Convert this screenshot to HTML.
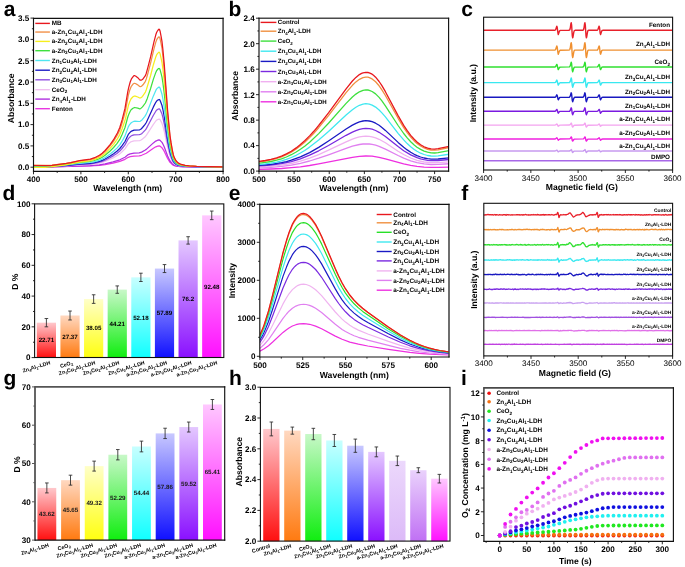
<!DOCTYPE html><html><head><meta charset="utf-8"><style>html,body{margin:0;padding:0;background:#fff;}svg{display:block;filter:blur(0.3px);} text{text-rendering:geometricPrecision;}</style></head><body>
<svg width="685" height="567" viewBox="0 0 685 567" font-family='"Liberation Sans", sans-serif'>
<rect width="685" height="567" fill="#fff"/>
<defs>
<linearGradient id="g_red" x1="0" y1="0" x2="0" y2="1"><stop offset="0" stop-color="#ffc8cc"/><stop offset="1" stop-color="#ff1010"/></linearGradient>
<linearGradient id="g_orange" x1="0" y1="0" x2="0" y2="1"><stop offset="0" stop-color="#ffd8c0"/><stop offset="1" stop-color="#ff7a10"/></linearGradient>
<linearGradient id="g_yellow" x1="0" y1="0" x2="0" y2="1"><stop offset="0" stop-color="#ffffc8"/><stop offset="1" stop-color="#ffff10"/></linearGradient>
<linearGradient id="g_green" x1="0" y1="0" x2="0" y2="1"><stop offset="0" stop-color="#c8f8c8"/><stop offset="1" stop-color="#10ee10"/></linearGradient>
<linearGradient id="g_cyan" x1="0" y1="0" x2="0" y2="1"><stop offset="0" stop-color="#c8ffff"/><stop offset="1" stop-color="#10ffff"/></linearGradient>
<linearGradient id="g_blue" x1="0" y1="0" x2="0" y2="1"><stop offset="0" stop-color="#c8c8ff"/><stop offset="1" stop-color="#1010ff"/></linearGradient>
<linearGradient id="g_purple" x1="0" y1="0" x2="0" y2="1"><stop offset="0" stop-color="#e4c8ff"/><stop offset="1" stop-color="#8a10ff"/></linearGradient>
<linearGradient id="g_magenta" x1="0" y1="0" x2="0" y2="1"><stop offset="0" stop-color="#ffc8ff"/><stop offset="1" stop-color="#ff10ff"/></linearGradient>
<linearGradient id="g_lav1" x1="0" y1="0" x2="0" y2="1"><stop offset="0" stop-color="#ecd8fc"/><stop offset="1" stop-color="#dcbaf8"/></linearGradient>
<linearGradient id="g_lav2" x1="0" y1="0" x2="0" y2="1"><stop offset="0" stop-color="#ead2fc"/><stop offset="1" stop-color="#c070f4"/></linearGradient>
</defs>
<defs>
</defs>
<clipPath id="ca"><rect x="33.5" y="18.4" width="189.6" height="152.9"/></clipPath>
<g clip-path="url(#ca)">
<polyline points="33.5,166.9 52,166.9 90.4,166 99.4,165.4 105.1,164.6 113.1,163.1 119.8,161.4 125,159.3 128.3,157.3 130.2,156.7 134,156.1 139.2,155.9 141.6,155.3 146.3,153.2 153.4,148.2 155.8,146.8 157.7,146.1 159.1,145.9 160.1,146.2 161,146.9 162,147.8 162.9,149.1 164.3,151.4 167.6,158.5 170,162.3 172.4,164.6 174.3,165.7 178.1,166.5 185.2,166.9 223.1,167.1" fill="none" stroke="#e838e0" stroke-width="1.25" stroke-linejoin="round" stroke-linecap="round"/>
<polyline points="33.5,167.1 51.5,167 90.4,165.6 99.4,164.9 105.1,163.9 113.1,161.9 119.8,159.8 125,157.2 128.3,154.6 130.2,153.8 134,153.2 139.2,152.8 141.6,152.1 144.9,150.3 146.3,149.4 153.4,142.9 155.8,141.1 157.7,140.2 159.1,139.9 160.1,140.3 161,141.3 162,142.4 162.9,144 164.3,147 167.6,156 170,161 172.4,163.9 174.3,165.3 176.2,166 178.1,166.4 185.2,166.8 223.1,167.1" fill="none" stroke="#b030e0" stroke-width="1.25" stroke-linejoin="round" stroke-linecap="round"/>
<polyline points="33.5,166.6 45.8,166.7 52,166.5 66.2,165.9 79.5,164.9 90.4,164.4 94.6,163.9 99.4,163.1 102.2,162.4 105.1,161.4 113.6,157.6 116.9,155.8 119.8,153.9 122.1,151.8 125,148.9 128.3,143.8 130.7,141.9 134,140.8 139.7,140.6 141.1,140 142.5,139 144.9,137 146.3,135.4 153.4,124.3 155.8,121 156.7,120.1 157.7,119.5 159.1,119.1 159.6,119.3 160.1,119.8 161,121.4 162,123.4 162.9,126.2 164.3,131.5 167.6,147.4 170,156.2 172.4,161.4 173.3,162.8 174.3,163.9 176.2,165 178.1,165.7 180.4,166.1 185.2,166.6 196.6,166.9 223.1,167.1" fill="none" stroke="#f0c0f0" stroke-width="1.25" stroke-linejoin="round" stroke-linecap="round"/>
<polyline points="33.5,166.7 45.8,166.8 51.5,166.6 65.7,165.7 79.5,164.5 90.4,163.8 94.6,163.2 99.4,162.2 102.2,161.3 105.1,160.2 109.8,157.8 113.6,155.6 116.9,153.4 119.8,151.1 122.1,148.5 125,144.9 128.3,138.6 130.7,136.2 131.6,135.7 134,134.9 139.2,134.7 140.2,134.5 141.6,133.7 143,132.4 145.4,129.9 146.3,128.6 153.4,115.2 155.8,111.2 156.7,110.1 157.7,109.4 159.1,108.8 159.6,109.1 160.1,109.7 161,111.7 162,114.1 162.9,117.5 164.3,124 167.6,143.2 170,153.9 172.4,160.1 173.3,161.9 174.3,163.1 176.2,164.6 178.1,165.4 180.4,165.9 185.2,166.4 196.6,166.8 223.1,167" fill="none" stroke="#9050e0" stroke-width="1.25" stroke-linejoin="round" stroke-linecap="round"/>
<polyline points="33.5,166.8 45.8,166.9 51.5,166.6 65.3,165.6 79.5,164.1 90.4,163.3 94.6,162.6 99.4,161.4 102.2,160.4 105.1,159 109.8,156.3 113.6,153.8 116.9,151.2 119.8,148.5 122.1,145.6 125,141.5 128.3,134.4 130.7,131.7 131.6,131.1 134,130.2 139.7,129.8 141.1,129 142.5,127.5 144.9,124.7 146.3,122.5 153.4,106.9 155.8,102.3 156.7,101 157.7,100.1 159.1,99.5 159.6,99.7 160.1,100.5 161,102.8 162,105.5 162.9,109.5 164.3,117 167.6,139.4 170,151.7 172.4,159 173.3,161.1 174.3,162.5 176.2,164.2 178.1,165.1 180.4,165.7 185.2,166.3 196.6,166.7 223.1,167" fill="none" stroke="#1a1ac4" stroke-width="1.25" stroke-linejoin="round" stroke-linecap="round"/>
<polyline points="33.5,166.2 45.8,166.3 52,166.1 66.2,165 79.5,163.4 90.4,162.5 94.6,161.7 99.4,160.3 102.2,159.1 105.1,157.5 109.8,154.3 113.6,151.3 116.9,148.1 119.8,144.9 122.1,141.2 125,135.9 128.3,126.9 129.2,125.2 130.7,123.3 131.6,122.5 134,121.3 134.9,121.2 139.2,121.5 140.2,121.3 142,119.9 144.9,116.4 145.8,114.9 147.3,111.8 153.4,95.9 155.8,90.4 156.7,88.9 157.7,87.9 158.6,87.2 159.1,87.1 159.6,87.4 160.1,88.3 161,91 162,94.3 162.9,99 164.3,107.9 167.6,134.3 170,148.9 171,152.8 172.4,157.5 173.3,159.9 174.3,161.6 176.2,163.6 178.1,164.7 180.4,165.4 185.2,166.1 196.6,166.7 223.1,167" fill="none" stroke="#50e6f0" stroke-width="1.25" stroke-linejoin="round" stroke-linecap="round"/>
<polyline points="33.5,165.8 45.8,165.9 52,165.6 66.2,164.4 79.5,162.5 89.9,161.5 94.2,160.5 98.9,158.9 101.8,157.5 105.1,155.3 109.8,151.2 113.6,147.5 116.9,143.6 119.8,139.4 122.1,134.5 125,127.5 127.8,117 128.8,114.2 130.2,111.3 131.1,109.8 133,108.2 134.5,107.5 137.8,108.2 139.7,108.8 140.6,108.6 142.5,106.9 145.4,103 147.3,98.4 150.6,88.5 153.4,79.1 155.8,72.4 156.7,70.5 157.7,69.3 158.6,68.5 159.1,68.4 159.6,68.8 160.1,69.8 161,73.2 162,77.2 162.9,83 164.3,94 167.6,126.6 170,144.6 171,149.4 172.4,155.2 173.3,158.2 174.3,160.3 176.2,162.8 178.1,164.1 180.4,165 185.2,165.9 196.6,166.5 223.1,166.9" fill="none" stroke="#3ee03e" stroke-width="1.25" stroke-linejoin="round" stroke-linecap="round"/>
<polyline points="33.5,167.3 45.4,167.3 51,166.9 64.3,165.1 70.5,164 79.5,162.1 90.4,160.6 94.6,159.4 99.4,157.4 102.2,155.7 105.1,153.4 109.8,148.6 113.6,144.3 116.9,139.7 119.8,134.6 122.1,128.8 124.5,121.8 125.5,118.6 128.3,105.8 129.7,101.8 131.1,98.8 133,96.8 134,96.2 134.5,96 135.4,96.2 137.8,97 139.7,98 140.6,97.9 141.6,97.3 142.5,96.3 145.4,92.1 146.3,89.8 147.7,85.3 150.6,75.5 153.4,64.7 155.8,56.9 156.7,54.7 157.7,53.3 158.6,52.3 159.1,52.2 159.6,52.6 160.1,53.9 161,57.8 162,62.5 162.9,69.2 164.3,82 167.6,120 170,140.9 171,146.5 172.4,153.3 173.3,156.8 174.3,159.2 176.2,162 178.1,163.7 180.4,164.6 185.2,165.7 189.4,166.1 196.6,166.4 223.1,166.8" fill="none" stroke="#f6ee1e" stroke-width="1.25" stroke-linejoin="round" stroke-linecap="round"/>
<polyline points="33.5,165.2 45.8,165.4 52,165 66.7,163.4 79.5,160.9 89.9,159.6 94.2,158.4 98.9,156.2 101.8,154.4 105.1,151.4 110.3,145.5 114.1,140.5 117.4,135 119.8,130 122.1,123.1 124.5,114.5 125.5,110.6 128.3,95.3 129.7,90.3 131.1,86.7 133,84.1 134,83.4 134.5,83.3 135.4,83.5 137.3,84.6 139.7,86.5 140.2,86.7 141.1,86.5 142,85.8 143,84.8 145.4,81.3 146.3,78.9 147.7,74 150.6,63.1 153.9,49.1 155.8,42.1 156.7,39.7 157.7,38.1 158.6,37 159.1,36.8 159.6,37.4 160.1,38.8 161,43.2 162,48.5 162.9,56.2 164.3,70.6 167.6,113.7 170,137.4 171,143.7 172.4,151.4 173.3,155.4 174.3,158.2 176.2,161.3 178.1,163.2 180.4,164.3 185.2,165.5 189.4,165.9 196.6,166.3 223.1,166.8" fill="none" stroke="#f29048" stroke-width="1.25" stroke-linejoin="round" stroke-linecap="round"/>
<polyline points="33.5,165.5 45.8,165.7 52,165.3 66.2,163.4 70.9,162.6 79.5,160.7 90.4,159.1 94.6,157.7 99.4,155.3 102.2,153.3 105.1,150.5 110.3,144.3 114.1,138.9 117.4,133 119.8,127.5 122.1,119.9 125,108.4 127.8,91.7 128.8,87.1 130.2,82 131.6,78.6 133.5,76.1 134,75.7 134.9,75.7 135.9,76.2 137.8,77.7 139.7,79.8 140.2,80.2 141.1,80.2 142,79.7 143,78.9 145.4,75.6 146.3,73.2 147.7,68.2 150.6,56.9 153.9,42.1 155.8,34.8 156.7,32.2 157.7,30.5 158.6,29.3 159.1,29.2 159.6,29.7 160.1,31.2 161,35.9 162,41.6 162.9,49.6 164.3,64.9 167.6,110.5 170,135.6 171,142.4 172.4,150.5 173.3,154.7 174.3,157.6 176.2,161 178.1,162.9 180.4,164.1 185.2,165.4 189.4,165.9 196.6,166.3 223.1,166.8" fill="none" stroke="#e8181e" stroke-width="1.25" stroke-linejoin="round" stroke-linecap="round"/>
</g>
<line x1="35.3" y1="23.4" x2="49.9" y2="23.4" stroke="#e8181e" stroke-width="1.4"/>
<text x="51.8" y="25.4" font-size="6.3" text-anchor="start" font-weight="bold" fill="#000">MB</text>
<line x1="35.3" y1="32.05" x2="49.9" y2="32.05" stroke="#f29048" stroke-width="1.4"/>
<text x="51.8" y="34.05" font-size="6.3" text-anchor="start" font-weight="bold" fill="#000">a-Zn<tspan dy="1.51" font-size="4.54">1</tspan><tspan dy="-1.51">Cu</tspan><tspan dy="1.51" font-size="4.54">3</tspan><tspan dy="-1.51">Al</tspan><tspan dy="1.51" font-size="4.54">1</tspan><tspan dy="-1.51">-LDH</tspan></text>
<line x1="35.3" y1="41.4" x2="49.9" y2="41.4" stroke="#f6ee1e" stroke-width="1.4"/>
<text x="51.8" y="43.4" font-size="6.3" text-anchor="start" font-weight="bold" fill="#000">a-Zn<tspan dy="1.51" font-size="4.54">2</tspan><tspan dy="-1.51">Cu</tspan><tspan dy="1.51" font-size="4.54">2</tspan><tspan dy="-1.51">Al</tspan><tspan dy="1.51" font-size="4.54">1</tspan><tspan dy="-1.51">-LDH</tspan></text>
<line x1="35.3" y1="50.7" x2="49.9" y2="50.7" stroke="#3ee03e" stroke-width="1.4"/>
<text x="51.8" y="52.7" font-size="6.3" text-anchor="start" font-weight="bold" fill="#000">a-Zn<tspan dy="1.51" font-size="4.54">3</tspan><tspan dy="-1.51">Cu</tspan><tspan dy="1.51" font-size="4.54">1</tspan><tspan dy="-1.51">Al</tspan><tspan dy="1.51" font-size="4.54">1</tspan><tspan dy="-1.51">-LDH</tspan></text>
<line x1="35.3" y1="60.5" x2="49.9" y2="60.5" stroke="#50e6f0" stroke-width="1.4"/>
<text x="51.8" y="62.5" font-size="6.3" text-anchor="start" font-weight="bold" fill="#000">Zn<tspan dy="1.51" font-size="4.54">1</tspan><tspan dy="-1.51">Cu</tspan><tspan dy="1.51" font-size="4.54">3</tspan><tspan dy="-1.51">Al</tspan><tspan dy="1.51" font-size="4.54">1</tspan><tspan dy="-1.51">-LDH</tspan></text>
<line x1="35.3" y1="70.2" x2="49.9" y2="70.2" stroke="#1a1ac4" stroke-width="1.4"/>
<text x="51.8" y="72.2" font-size="6.3" text-anchor="start" font-weight="bold" fill="#000">Zn<tspan dy="1.51" font-size="4.54">2</tspan><tspan dy="-1.51">Cu</tspan><tspan dy="1.51" font-size="4.54">2</tspan><tspan dy="-1.51">Al</tspan><tspan dy="1.51" font-size="4.54">1</tspan><tspan dy="-1.51">-LDH</tspan></text>
<line x1="35.3" y1="79.8" x2="49.9" y2="79.8" stroke="#9050e0" stroke-width="1.4"/>
<text x="51.8" y="81.8" font-size="6.3" text-anchor="start" font-weight="bold" fill="#000">Zn<tspan dy="1.51" font-size="4.54">3</tspan><tspan dy="-1.51">Cu</tspan><tspan dy="1.51" font-size="4.54">1</tspan><tspan dy="-1.51">Al</tspan><tspan dy="1.51" font-size="4.54">1</tspan><tspan dy="-1.51">-LDH</tspan></text>
<line x1="35.3" y1="89.7" x2="49.9" y2="89.7" stroke="#f0c0f0" stroke-width="1.4"/>
<text x="51.8" y="91.7" font-size="6.3" text-anchor="start" font-weight="bold" fill="#000">CeO<tspan dy="1.51" font-size="4.54">2</tspan></text>
<line x1="35.3" y1="99.1" x2="49.9" y2="99.1" stroke="#b030e0" stroke-width="1.4"/>
<text x="51.8" y="101.1" font-size="6.3" text-anchor="start" font-weight="bold" fill="#000">Zn<tspan dy="1.51" font-size="4.54">4</tspan><tspan dy="-1.51">Al</tspan><tspan dy="1.51" font-size="4.54">1</tspan><tspan dy="-1.51">-LDH</tspan></text>
<line x1="35.3" y1="108.7" x2="49.9" y2="108.7" stroke="#e838e0" stroke-width="1.4"/>
<text x="51.8" y="110.7" font-size="6.3" text-anchor="start" font-weight="bold" fill="#000">Fenton</text>
<line x1="223.1" y1="17.85" x2="223.1" y2="171.85" stroke="#4a4a4a" stroke-width="1.6"/>
<line x1="32.95" y1="18.4" x2="223.65" y2="18.4" stroke="#111" stroke-width="1.15"/>
<line x1="32.95" y1="171.3" x2="223.65" y2="171.3" stroke="#111" stroke-width="1.15"/>
<line x1="33.5" y1="17.85" x2="33.5" y2="171.85" stroke="#111" stroke-width="1.15"/>
<line x1="33.5" y1="171.3" x2="33.5" y2="174.3" stroke="#111" stroke-width="0.9"/>
<text x="33.5" y="182.1" font-size="8.1" text-anchor="middle" font-weight="bold" fill="#000">400</text>
<line x1="80.9" y1="171.3" x2="80.9" y2="174.3" stroke="#111" stroke-width="0.9"/>
<text x="80.9" y="182.1" font-size="8.1" text-anchor="middle" font-weight="bold" fill="#000">500</text>
<line x1="128.3" y1="171.3" x2="128.3" y2="174.3" stroke="#111" stroke-width="0.9"/>
<text x="128.3" y="182.1" font-size="8.1" text-anchor="middle" font-weight="bold" fill="#000">600</text>
<line x1="175.7" y1="171.3" x2="175.7" y2="174.3" stroke="#111" stroke-width="0.9"/>
<text x="175.7" y="182.1" font-size="8.1" text-anchor="middle" font-weight="bold" fill="#000">700</text>
<line x1="223.1" y1="171.3" x2="223.1" y2="174.3" stroke="#111" stroke-width="0.9"/>
<text x="223.1" y="182.1" font-size="8.1" text-anchor="middle" font-weight="bold" fill="#000">800</text>
<line x1="57.2" y1="171.3" x2="57.2" y2="172.9" stroke="#111" stroke-width="0.9"/>
<line x1="104.6" y1="171.3" x2="104.6" y2="172.9" stroke="#111" stroke-width="0.9"/>
<line x1="152" y1="171.3" x2="152" y2="172.9" stroke="#111" stroke-width="0.9"/>
<line x1="199.4" y1="171.3" x2="199.4" y2="172.9" stroke="#111" stroke-width="0.9"/>
<line x1="30.5" y1="167.2" x2="33.5" y2="167.2" stroke="#111" stroke-width="0.9"/>
<text x="29.3" y="170.08" font-size="8.1" text-anchor="end" font-weight="bold" fill="#000">0.0</text>
<line x1="30.5" y1="145.9" x2="33.5" y2="145.9" stroke="#111" stroke-width="0.9"/>
<text x="29.3" y="148.78" font-size="8.1" text-anchor="end" font-weight="bold" fill="#000">0.5</text>
<line x1="30.5" y1="124.6" x2="33.5" y2="124.6" stroke="#111" stroke-width="0.9"/>
<text x="29.3" y="127.48" font-size="8.1" text-anchor="end" font-weight="bold" fill="#000">1.0</text>
<line x1="30.5" y1="103.3" x2="33.5" y2="103.3" stroke="#111" stroke-width="0.9"/>
<text x="29.3" y="106.18" font-size="8.1" text-anchor="end" font-weight="bold" fill="#000">1.5</text>
<line x1="30.5" y1="82" x2="33.5" y2="82" stroke="#111" stroke-width="0.9"/>
<text x="29.3" y="84.88" font-size="8.1" text-anchor="end" font-weight="bold" fill="#000">2.0</text>
<line x1="30.5" y1="60.7" x2="33.5" y2="60.7" stroke="#111" stroke-width="0.9"/>
<text x="29.3" y="63.58" font-size="8.1" text-anchor="end" font-weight="bold" fill="#000">2.5</text>
<line x1="30.5" y1="39.4" x2="33.5" y2="39.4" stroke="#111" stroke-width="0.9"/>
<text x="29.3" y="42.28" font-size="8.1" text-anchor="end" font-weight="bold" fill="#000">3.0</text>
<line x1="30.5" y1="18.1" x2="33.5" y2="18.1" stroke="#111" stroke-width="0.9"/>
<text x="29.3" y="20.98" font-size="8.1" text-anchor="end" font-weight="bold" fill="#000">3.5</text>
<line x1="31.9" y1="156.55" x2="33.5" y2="156.55" stroke="#111" stroke-width="0.9"/>
<line x1="31.9" y1="135.25" x2="33.5" y2="135.25" stroke="#111" stroke-width="0.9"/>
<line x1="31.9" y1="113.95" x2="33.5" y2="113.95" stroke="#111" stroke-width="0.9"/>
<line x1="31.9" y1="92.65" x2="33.5" y2="92.65" stroke="#111" stroke-width="0.9"/>
<line x1="31.9" y1="71.35" x2="33.5" y2="71.35" stroke="#111" stroke-width="0.9"/>
<line x1="31.9" y1="50.05" x2="33.5" y2="50.05" stroke="#111" stroke-width="0.9"/>
<line x1="31.9" y1="28.75" x2="33.5" y2="28.75" stroke="#111" stroke-width="0.9"/>
<text x="3.7" y="16" font-size="21" text-anchor="start" font-weight="bold" fill="#000">a</text>
<text x="14" y="98.4" font-size="8.6" text-anchor="middle" font-weight="bold" fill="#000" transform="rotate(-90 14 98.4)">Absorbance</text>
<text x="127.7" y="190.6" font-size="8.6" text-anchor="middle" font-weight="bold" fill="#000">Wavelength (nm)</text>
<clipPath id="cb"><rect x="259" y="18.2" width="189.6" height="152.9"/></clipPath>
<g clip-path="url(#cb)">
<polyline points="259,169.3 270.9,169 281.5,168.5 291.3,167.7 300.4,166.8 309.6,165.5 318.7,163.9 352.4,157.3 359.4,156.3 365.8,156 372.1,156.2 379.1,157.3 385.4,158.8 403.7,163.9 410.7,165.4 417,166.4 424.1,167.1 431.1,167.4 438.1,167.4 450.1,167" fill="none" stroke="#ee30e0" stroke-width="1.3" stroke-linejoin="round" stroke-linecap="round"/>
<polyline points="259,167.8 270.9,167.3 281.5,166.4 291.3,165.1 300.4,163.3 309.6,161 318.7,158.2 328.5,154.8 346.1,148.3 352.4,146.2 359.4,144.5 363,144 365.8,143.9 369.3,144 372.1,144.4 375.6,145.2 379.1,146.3 385.4,149.1 398.1,155.5 403.7,158.1 410.7,160.8 417,162.6 424.1,163.9 431.1,164.5 438.1,164.4 450.1,163.7" fill="none" stroke="#e080f0" stroke-width="1.3" stroke-linejoin="round" stroke-linecap="round"/>
<polyline points="259,167 270.9,166.3 281.5,165.2 291.3,163.5 300.4,161.2 309.6,158.2 318.7,154.6 328.5,150.2 346.1,141.8 352.4,139.1 355.9,137.9 359.4,136.9 363,136.3 365.8,136.1 369.3,136.3 372.1,136.8 375.6,137.8 379.1,139.3 385.4,142.8 398.1,151.2 403.7,154.5 410.7,158 417,160.3 424.1,162 431.1,162.7 438.1,162.6 450.1,161.7" fill="none" stroke="#f0b0f0" stroke-width="1.3" stroke-linejoin="round" stroke-linecap="round"/>
<polyline points="259,165.8 270.9,165 281.5,163.6 291.3,161.6 300.4,158.8 309.6,155.2 318.7,150.8 328.5,145.5 346.1,135.3 352.4,132.1 355.9,130.6 359.4,129.4 363,128.6 365.8,128.4 369.3,128.6 372.1,129.2 375.6,130.5 379.1,132.3 385.4,136.5 398.1,146.6 403.7,150.7 410.7,154.9 417,157.7 420.6,158.9 424.1,159.7 427.6,160.3 431.1,160.6 438.1,160.5 450.1,159.4" fill="none" stroke="#7a2ae0" stroke-width="1.3" stroke-linejoin="round" stroke-linecap="round"/>
<polyline points="259,165.3 270.9,164.3 281.5,162.7 286.4,161.6 291.3,160.2 300.4,156.9 309.6,152.6 318.7,147.4 328.5,141 346.1,129 352.4,125.1 355.9,123.3 359.4,121.9 363,121 365.8,120.7 369.3,121 372.1,121.7 375.6,123.2 379.1,125.3 381.9,127.4 385.4,130.4 398.1,142.4 403.7,147.3 407.2,149.9 410.7,152.3 414.2,154.3 417,155.6 420.6,157 424.1,158 427.6,158.7 431.1,159.1 438.1,159 450.1,157.7" fill="none" stroke="#1a1ac4" stroke-width="1.3" stroke-linejoin="round" stroke-linecap="round"/>
<polyline points="259,164.4 265.3,163.9 270.9,163.1 276.6,162.1 281.5,160.9 286.4,159.4 291.3,157.5 296.2,155.3 300.4,153 304.7,150.5 309.6,147.1 318.7,140 328.5,131.4 346.1,115 352.4,109.7 355.9,107.2 359.4,105.3 363,104.1 365.8,103.7 369.3,104.1 372.1,105.1 375.6,107.1 379.1,110 381.9,112.9 385.4,116.9 398.1,133.3 403.7,139.9 407.2,143.6 410.7,146.7 414.2,149.5 417,151.3 420.6,153.2 424.1,154.5 427.6,155.5 431.1,156 434.6,156.1 438.1,155.9 450.1,154.1" fill="none" stroke="#40e8f0" stroke-width="1.3" stroke-linejoin="round" stroke-linecap="round"/>
<polyline points="259,163.1 265.3,162.4 270.9,161.5 276.6,160.2 281.5,158.8 286.4,157 291.3,154.7 296.2,152 300.4,149.3 304.7,146.2 309.6,142.2 318.7,133.6 328.5,123.2 346.1,103.4 352.4,97 355.9,94.1 359.4,91.8 363,90.3 365.8,89.9 367.9,90 369.3,90.3 372.1,91.5 375.6,93.9 379.1,97.4 381.9,100.9 385.4,105.8 398.1,125.5 403.7,133.5 407.2,137.9 410.7,141.7 414.2,145 417,147.2 420.6,149.4 424.1,151.1 427.6,152.2 431.1,152.8 434.6,153 438.1,152.7 450.1,150.5" fill="none" stroke="#3ee03e" stroke-width="1.3" stroke-linejoin="round" stroke-linecap="round"/>
<polyline points="259,161.8 265.3,161 270.9,159.9 276.6,158.5 281.5,156.8 286.4,154.7 291.3,152.1 296.2,149 300.4,145.8 304.7,142.3 309.6,137.6 313.8,133.2 318.7,127.7 328.5,115.6 346.1,92.7 352.4,85.3 355.9,81.9 359.4,79.3 363,77.6 365.8,77.1 367.9,77.2 369.3,77.6 372.1,78.9 375.6,81.8 379.1,85.8 381.9,89.8 385.4,95.5 398.1,118.3 403.7,127.6 407.2,132.6 410.7,137.1 414.2,140.9 417,143.4 420.6,146 424.1,148 427.6,149.3 431.1,150 434.6,150.1 438.1,149.8 450.1,147.3" fill="none" stroke="#f09040" stroke-width="1.3" stroke-linejoin="round" stroke-linecap="round"/>
<polyline points="259,161.3 265.3,160.5 270.9,159.4 276.6,157.9 281.5,156.1 286.4,153.9 291.3,151.2 296.2,147.9 300.4,144.6 304.7,140.8 309.6,135.9 313.8,131.3 318.7,125.5 328.5,112.8 346.1,88.8 352.4,81 355.9,77.4 359.4,74.6 361.6,73.4 363,72.9 365.8,72.3 367.9,72.5 369.3,72.8 372.1,74.2 373.5,75.3 375.6,77.2 379.1,81.5 381.9,85.7 385.4,91.7 398.1,115.6 403.7,125.4 407.2,130.7 410.7,135.4 414.2,139.3 417,142 420.6,144.8 424.1,146.8 427.6,148.2 431.1,148.9 434.6,149.1 438.1,148.7 450.1,146.1" fill="none" stroke="#e8181e" stroke-width="1.3" stroke-linejoin="round" stroke-linecap="round"/>
</g>
<line x1="260.6" y1="22.4" x2="276.4" y2="22.4" stroke="#e8181e" stroke-width="1.4"/>
<text x="277.8" y="24.4" font-size="6.1" text-anchor="start" font-weight="bold" fill="#000">Control</text>
<line x1="260.6" y1="31.2" x2="276.4" y2="31.2" stroke="#f09040" stroke-width="1.4"/>
<text x="277.8" y="33.2" font-size="6.1" text-anchor="start" font-weight="bold" fill="#000">Zn<tspan dy="1.46" font-size="4.39">4</tspan><tspan dy="-1.46">Al</tspan><tspan dy="1.46" font-size="4.39">1</tspan><tspan dy="-1.46">-LDH</tspan></text>
<line x1="260.6" y1="41.1" x2="276.4" y2="41.1" stroke="#3ee03e" stroke-width="1.4"/>
<text x="277.8" y="43.1" font-size="6.1" text-anchor="start" font-weight="bold" fill="#000">CeO<tspan dy="1.46" font-size="4.39">2</tspan></text>
<line x1="260.6" y1="51.2" x2="276.4" y2="51.2" stroke="#40e8f0" stroke-width="1.4"/>
<text x="277.8" y="53.2" font-size="6.1" text-anchor="start" font-weight="bold" fill="#000">Zn<tspan dy="1.46" font-size="4.39">3</tspan><tspan dy="-1.46">Cu</tspan><tspan dy="1.46" font-size="4.39">1</tspan><tspan dy="-1.46">Al</tspan><tspan dy="1.46" font-size="4.39">1</tspan><tspan dy="-1.46">-LDH</tspan></text>
<line x1="260.6" y1="61.4" x2="276.4" y2="61.4" stroke="#1a1ac4" stroke-width="1.4"/>
<text x="277.8" y="63.4" font-size="6.1" text-anchor="start" font-weight="bold" fill="#000">Zn<tspan dy="1.46" font-size="4.39">2</tspan><tspan dy="-1.46">Cu</tspan><tspan dy="1.46" font-size="4.39">2</tspan><tspan dy="-1.46">Al</tspan><tspan dy="1.46" font-size="4.39">1</tspan><tspan dy="-1.46">-LDH</tspan></text>
<line x1="260.6" y1="71.5" x2="276.4" y2="71.5" stroke="#7a2ae0" stroke-width="1.4"/>
<text x="277.8" y="73.5" font-size="6.1" text-anchor="start" font-weight="bold" fill="#000">Zn<tspan dy="1.46" font-size="4.39">1</tspan><tspan dy="-1.46">Cu</tspan><tspan dy="1.46" font-size="4.39">3</tspan><tspan dy="-1.46">Al</tspan><tspan dy="1.46" font-size="4.39">1</tspan><tspan dy="-1.46">-LDH</tspan></text>
<line x1="260.6" y1="81.7" x2="276.4" y2="81.7" stroke="#f0b0f0" stroke-width="1.4"/>
<text x="277.8" y="83.7" font-size="6.1" text-anchor="start" font-weight="bold" fill="#000">a-Zn<tspan dy="1.46" font-size="4.39">3</tspan><tspan dy="-1.46">Cu</tspan><tspan dy="1.46" font-size="4.39">1</tspan><tspan dy="-1.46">Al</tspan><tspan dy="1.46" font-size="4.39">1</tspan><tspan dy="-1.46">-LDH</tspan></text>
<line x1="260.6" y1="91.8" x2="276.4" y2="91.8" stroke="#e080f0" stroke-width="1.4"/>
<text x="277.8" y="93.8" font-size="6.1" text-anchor="start" font-weight="bold" fill="#000">a-Zn<tspan dy="1.46" font-size="4.39">2</tspan><tspan dy="-1.46">Cu</tspan><tspan dy="1.46" font-size="4.39">2</tspan><tspan dy="-1.46">Al</tspan><tspan dy="1.46" font-size="4.39">1</tspan><tspan dy="-1.46">-LDH</tspan></text>
<line x1="260.6" y1="101.8" x2="276.4" y2="101.8" stroke="#ee30e0" stroke-width="1.4"/>
<text x="277.8" y="103.8" font-size="6.1" text-anchor="start" font-weight="bold" fill="#000">a-Zn<tspan dy="1.46" font-size="4.39">1</tspan><tspan dy="-1.46">Cu</tspan><tspan dy="1.46" font-size="4.39">3</tspan><tspan dy="-1.46">Al</tspan><tspan dy="1.46" font-size="4.39">1</tspan><tspan dy="-1.46">-LDH</tspan></text>
<line x1="258.45" y1="18.2" x2="449.15" y2="18.2" stroke="#4a4a4a" stroke-width="1.6"/>
<line x1="448.6" y1="17.65" x2="448.6" y2="171.65" stroke="#111" stroke-width="1.15"/>
<line x1="258.45" y1="171.1" x2="449.15" y2="171.1" stroke="#111" stroke-width="1.15"/>
<line x1="259" y1="17.65" x2="259" y2="171.65" stroke="#111" stroke-width="1.15"/>
<line x1="259" y1="171.1" x2="259" y2="174.1" stroke="#111" stroke-width="0.9"/>
<text x="259" y="181.9" font-size="8.1" text-anchor="middle" font-weight="bold" fill="#000">500</text>
<line x1="294.12" y1="171.1" x2="294.12" y2="174.1" stroke="#111" stroke-width="0.9"/>
<text x="294.12" y="181.9" font-size="8.1" text-anchor="middle" font-weight="bold" fill="#000">550</text>
<line x1="329.24" y1="171.1" x2="329.24" y2="174.1" stroke="#111" stroke-width="0.9"/>
<text x="329.24" y="181.9" font-size="8.1" text-anchor="middle" font-weight="bold" fill="#000">600</text>
<line x1="364.36" y1="171.1" x2="364.36" y2="174.1" stroke="#111" stroke-width="0.9"/>
<text x="364.36" y="181.9" font-size="8.1" text-anchor="middle" font-weight="bold" fill="#000">650</text>
<line x1="399.48" y1="171.1" x2="399.48" y2="174.1" stroke="#111" stroke-width="0.9"/>
<text x="399.48" y="181.9" font-size="8.1" text-anchor="middle" font-weight="bold" fill="#000">700</text>
<line x1="434.6" y1="171.1" x2="434.6" y2="174.1" stroke="#111" stroke-width="0.9"/>
<text x="434.6" y="181.9" font-size="8.1" text-anchor="middle" font-weight="bold" fill="#000">750</text>
<line x1="276.56" y1="171.1" x2="276.56" y2="172.7" stroke="#111" stroke-width="0.9"/>
<line x1="311.68" y1="171.1" x2="311.68" y2="172.7" stroke="#111" stroke-width="0.9"/>
<line x1="346.8" y1="171.1" x2="346.8" y2="172.7" stroke="#111" stroke-width="0.9"/>
<line x1="381.92" y1="171.1" x2="381.92" y2="172.7" stroke="#111" stroke-width="0.9"/>
<line x1="417.04" y1="171.1" x2="417.04" y2="172.7" stroke="#111" stroke-width="0.9"/>
<line x1="256" y1="171.1" x2="259" y2="171.1" stroke="#111" stroke-width="0.9"/>
<text x="254.8" y="173.98" font-size="8.1" text-anchor="end" font-weight="bold" fill="#000">0.0</text>
<line x1="256" y1="145.62" x2="259" y2="145.62" stroke="#111" stroke-width="0.9"/>
<text x="254.8" y="148.49" font-size="8.1" text-anchor="end" font-weight="bold" fill="#000">0.4</text>
<line x1="256" y1="120.13" x2="259" y2="120.13" stroke="#111" stroke-width="0.9"/>
<text x="254.8" y="123.01" font-size="8.1" text-anchor="end" font-weight="bold" fill="#000">0.8</text>
<line x1="256" y1="94.65" x2="259" y2="94.65" stroke="#111" stroke-width="0.9"/>
<text x="254.8" y="97.53" font-size="8.1" text-anchor="end" font-weight="bold" fill="#000">1.2</text>
<line x1="256" y1="69.17" x2="259" y2="69.17" stroke="#111" stroke-width="0.9"/>
<text x="254.8" y="72.04" font-size="8.1" text-anchor="end" font-weight="bold" fill="#000">1.6</text>
<line x1="256" y1="43.68" x2="259" y2="43.68" stroke="#111" stroke-width="0.9"/>
<text x="254.8" y="46.56" font-size="8.1" text-anchor="end" font-weight="bold" fill="#000">2.0</text>
<line x1="256" y1="18.2" x2="259" y2="18.2" stroke="#111" stroke-width="0.9"/>
<text x="254.8" y="21.08" font-size="8.1" text-anchor="end" font-weight="bold" fill="#000">2.4</text>
<line x1="257.4" y1="158.36" x2="259" y2="158.36" stroke="#111" stroke-width="0.9"/>
<line x1="257.4" y1="132.88" x2="259" y2="132.88" stroke="#111" stroke-width="0.9"/>
<line x1="257.4" y1="107.39" x2="259" y2="107.39" stroke="#111" stroke-width="0.9"/>
<line x1="257.4" y1="81.91" x2="259" y2="81.91" stroke="#111" stroke-width="0.9"/>
<line x1="257.4" y1="56.42" x2="259" y2="56.42" stroke="#111" stroke-width="0.9"/>
<line x1="257.4" y1="30.94" x2="259" y2="30.94" stroke="#111" stroke-width="0.9"/>
<text x="228.4" y="16" font-size="21" text-anchor="start" font-weight="bold" fill="#000">b</text>
<text x="238.4" y="95.9" font-size="8.6" text-anchor="middle" font-weight="bold" fill="#000" transform="rotate(-90 238.4 95.9)">Absorbance</text>
<text x="353.8" y="190.6" font-size="8.6" text-anchor="middle" font-weight="bold" fill="#000">Wavelength (nm)</text>
<clipPath id="cc"><rect x="483.6" y="17.2" width="189" height="152.8"/></clipPath>
<g clip-path="url(#cc)">
<polyline points="483.6,30.3 554.6,30.3 555.2,30.1 555.6,29.7 556.8,26.1 557.2,27.3 558,33.3 558.3,34.5 559.4,31.3 560.1,30.4 568.7,30.3 569.5,30.1 569.9,29.5 570.2,28.5 570.9,23.6 571.2,22.7 571.6,24.8 572.3,35.8 572.7,37.9 573,37 573.8,32.1 574.3,30.6 575.1,30.3 582.4,30.3 583.2,30.1 583.6,29.5 583.9,28.5 584.6,23.6 584.9,22.7 585.3,24.8 586,35.8 586.4,37.9 586.7,37 587.5,32.1 587.7,31.1 588.1,30.5 588.9,30.3 597.4,30.2 598,29.3 599.1,26.1 599.5,27.3 600.2,33.3 600.6,34.5 601.7,31.1 602.1,30.5 602.8,30.3 672.6,30.3" fill="none" stroke="#e8202a" stroke-width="1.4" stroke-linejoin="round" stroke-linecap="round"/>
<polyline points="483.6,50.1 554.6,50.1 555.2,49.9 555.6,49.5 556.8,46 557.2,47.1 558,53.1 558.3,54.2 559.4,51.1 560.1,50.2 568.7,50.1 569.5,49.9 569.9,49.3 570.2,48.3 570.9,43.5 571.2,42.6 571.6,44.6 572.3,55.6 572.7,57.6 573,56.7 573.8,51.9 574.3,50.4 575.1,50.1 582.4,50.1 583.2,49.9 583.6,49.3 583.9,48.3 584.6,43.5 584.9,42.6 585.3,44.6 586,55.6 586.4,57.6 586.7,56.7 587.5,51.9 587.7,50.9 588.1,50.3 588.9,50.1 597.4,50 598,49.1 599.1,46 599.5,47.1 600.2,53.1 600.6,54.2 601.7,50.8 602.1,50.3 602.8,50.1 672.6,50.1" fill="none" stroke="#f09030" stroke-width="1.4" stroke-linejoin="round" stroke-linecap="round"/>
<polyline points="483.6,67 554.6,67 555.2,66.9 555.6,66.6 556.8,64.4 557.2,65.1 558,68.9 558.3,69.6 559.4,67.6 560.1,67.1 569.5,66.9 570.2,65.9 571.2,62.2 571.6,63.5 572.3,70.5 572.7,71.8 573.8,68.1 574.4,67.1 582.5,67 583.3,66.8 583.9,65.9 584.9,62.2 585.3,63.5 586,70.5 586.4,71.8 587.5,68.1 588.1,67.1 597.4,66.9 598,66.4 599.1,64.4 599.5,65.1 600.2,68.9 600.6,69.6 601.7,67.5 602.1,67.1 602.8,67 672.6,67" fill="none" stroke="#30e030" stroke-width="1.4" stroke-linejoin="round" stroke-linecap="round"/>
<polyline points="483.6,82.6 554.6,82.6 555.6,82.3 556.8,80.1 557.2,80.8 558,84.4 558.3,85.1 559.4,83.2 560.1,82.7 569.5,82.5 570.2,81.5 571.2,78 571.6,79.3 572.3,85.9 572.7,87.2 573.8,83.7 574.3,82.8 575.1,82.6 583.2,82.5 583.9,81.5 584.9,78 585.3,79.3 586,85.9 586.4,87.2 587.5,83.7 588.1,82.7 597.4,82.5 598,82 599.1,80.1 599.5,80.8 600.2,84.4 600.6,85.1 601.7,83.1 602.1,82.7 602.8,82.6 672.6,82.6" fill="none" stroke="#38e8f0" stroke-width="1.4" stroke-linejoin="round" stroke-linecap="round"/>
<polyline points="483.6,97.3 554.6,97.3 555.6,97 556.8,94.8 557.2,95.5 558,99.1 558.3,99.8 559.4,97.9 560.1,97.4 569.5,97.2 570.2,96.2 571.2,92.8 571.6,94 572.3,100.6 572.7,101.8 573.8,98.4 574.3,97.5 575.1,97.3 583.2,97.2 583.9,96.2 584.9,92.8 585.3,94 586,100.6 586.4,101.8 587.5,98.4 588.1,97.4 597.4,97.2 598,96.7 599.1,94.8 599.5,95.5 600.2,99.1 600.6,99.8 601.7,97.7 602.1,97.4 602.8,97.3 672.6,97.3" fill="none" stroke="#1818c0" stroke-width="1.4" stroke-linejoin="round" stroke-linecap="round"/>
<polyline points="483.6,111.3 554.6,111.3 555.6,111 556.8,109.4 557.2,109.9 558,112.7 558.3,113.2 559.4,111.7 560.1,111.4 569.5,111.2 570.2,110.5 571.2,107.8 571.6,108.8 572.3,113.8 572.7,114.8 573.8,112.1 574.4,111.4 583.3,111.2 583.9,110.5 584.9,107.8 585.3,108.8 586,113.8 586.4,114.8 587.5,112.1 588.1,111.4 597.4,111.2 598,110.9 599.1,109.4 599.5,109.9 600.2,112.7 600.6,113.2 601.7,111.6 602.8,111.3 672.6,111.3" fill="none" stroke="#7a1ae0" stroke-width="1.4" stroke-linejoin="round" stroke-linecap="round"/>
<polyline points="483.6,125.1 554.6,125.1 555.6,124.9 556.8,124 557.2,124.3 558,125.9 558.3,126.2 559.4,125.4 560.1,125.1 569.5,125 570.2,124.6 571.2,123.1 571.6,123.6 572.3,126.6 572.7,127.1 573.8,125.6 574.3,125.2 583.2,125 583.9,124.6 584.9,123.1 585.3,123.6 586,126.6 586.4,127.1 587.5,125.6 588.1,125.2 597.4,125.1 598,124.8 599.1,124 599.5,124.3 600.2,125.9 600.6,126.2 601.7,125.3 602.8,125.1 672.6,125.1" fill="none" stroke="#f4a4f0" stroke-width="1.4" stroke-linejoin="round" stroke-linecap="round"/>
<polyline points="483.6,139 554.6,139 555.6,138.8 556.8,137.8 557.2,138.2 558,139.8 558.3,140.2 559.4,139.3 560.1,139 569.5,138.9 570.2,138.5 571.2,136.9 571.6,137.5 572.3,140.5 572.7,141.1 573.8,139.5 574.4,139.1 583.3,138.9 583.9,138.5 584.9,136.9 585.3,137.5 586,140.5 586.4,141.1 587.5,139.5 588.1,139.1 597.4,139 598,138.7 599.1,137.8 599.5,138.2 600.2,139.8 600.6,140.2 601.7,139.2 602.8,139 672.6,139" fill="none" stroke="#f020e0" stroke-width="1.4" stroke-linejoin="round" stroke-linecap="round"/>
<polyline points="483.6,151 554.6,151 555.6,150.9 556.8,150.2 557.2,150.4 558,151.6 558.3,151.8 559.4,151.2 560.1,151 569.5,151 570.2,150.7 571.2,149.6 571.6,150 572.3,152 572.7,152.4 573.8,151.3 574.3,151.1 583.2,151 583.9,150.7 584.9,149.6 585.3,150 586,152 586.4,152.4 587.5,151.3 588.1,151 597.4,151 598,150.8 599.1,150.2 599.5,150.4 600.2,151.6 600.6,151.8 601.7,151.1 602.8,151 672.6,151" fill="none" stroke="#c89af0" stroke-width="1.4" stroke-linejoin="round" stroke-linecap="round"/>
<polyline points="483.6,160.8 672.6,160.8" fill="none" stroke="#a868e8" stroke-width="1.4" stroke-linejoin="round" stroke-linecap="round"/>
</g>
<text x="670" y="26.5" font-size="6.3" text-anchor="end" font-weight="bold" fill="#000">Fenton</text>
<text x="670" y="46.3" font-size="6.3" text-anchor="end" font-weight="bold" fill="#000">Zn<tspan dy="1.51" font-size="4.54">4</tspan><tspan dy="-1.51">Al</tspan><tspan dy="1.51" font-size="4.54">1</tspan><tspan dy="-1.51">-LDH</tspan></text>
<text x="670" y="64" font-size="6.3" text-anchor="end" font-weight="bold" fill="#000">CeO<tspan dy="1.51" font-size="4.54">2</tspan></text>
<text x="670" y="79" font-size="6.3" text-anchor="end" font-weight="bold" fill="#000">Zn<tspan dy="1.51" font-size="4.54">3</tspan><tspan dy="-1.51">Cu</tspan><tspan dy="1.51" font-size="4.54">1</tspan><tspan dy="-1.51">Al</tspan><tspan dy="1.51" font-size="4.54">1</tspan><tspan dy="-1.51">-LDH</tspan></text>
<text x="670" y="93.6" font-size="6.3" text-anchor="end" font-weight="bold" fill="#000">Zn<tspan dy="1.51" font-size="4.54">2</tspan><tspan dy="-1.51">Cu</tspan><tspan dy="1.51" font-size="4.54">2</tspan><tspan dy="-1.51">Al</tspan><tspan dy="1.51" font-size="4.54">1</tspan><tspan dy="-1.51">-LDH</tspan></text>
<text x="670" y="107.6" font-size="6.3" text-anchor="end" font-weight="bold" fill="#000">Zn<tspan dy="1.51" font-size="4.54">1</tspan><tspan dy="-1.51">Cu</tspan><tspan dy="1.51" font-size="4.54">3</tspan><tspan dy="-1.51">Al</tspan><tspan dy="1.51" font-size="4.54">1</tspan><tspan dy="-1.51">-LDH</tspan></text>
<text x="670" y="121" font-size="6.3" text-anchor="end" font-weight="bold" fill="#000">a-Zn<tspan dy="1.51" font-size="4.54">3</tspan><tspan dy="-1.51">Cu</tspan><tspan dy="1.51" font-size="4.54">1</tspan><tspan dy="-1.51">Al</tspan><tspan dy="1.51" font-size="4.54">1</tspan><tspan dy="-1.51">-LDH</tspan></text>
<text x="670" y="134.6" font-size="6.3" text-anchor="end" font-weight="bold" fill="#000">a-Zn<tspan dy="1.51" font-size="4.54">2</tspan><tspan dy="-1.51">Cu</tspan><tspan dy="1.51" font-size="4.54">2</tspan><tspan dy="-1.51">Al</tspan><tspan dy="1.51" font-size="4.54">1</tspan><tspan dy="-1.51">-LDH</tspan></text>
<text x="670" y="148" font-size="6.3" text-anchor="end" font-weight="bold" fill="#000">a-Zn<tspan dy="1.51" font-size="4.54">1</tspan><tspan dy="-1.51">Cu</tspan><tspan dy="1.51" font-size="4.54">3</tspan><tspan dy="-1.51">Al</tspan><tspan dy="1.51" font-size="4.54">1</tspan><tspan dy="-1.51">-LDH</tspan></text>
<text x="670" y="159.2" font-size="6.3" text-anchor="end" font-weight="bold" fill="#000">DMPO</text>
<rect x="483.6" y="17.2" width="189" height="152.8" fill="none" stroke="#111" stroke-width="1.1"/>
<line x1="483.6" y1="170" x2="483.6" y2="173" stroke="#111" stroke-width="0.9"/>
<text x="483.6" y="180.9" font-size="8.1" text-anchor="middle" font-weight="normal" fill="#000">3400</text>
<line x1="530.85" y1="170" x2="530.85" y2="173" stroke="#111" stroke-width="0.9"/>
<text x="530.85" y="180.9" font-size="8.1" text-anchor="middle" font-weight="normal" fill="#000">3450</text>
<line x1="578.1" y1="170" x2="578.1" y2="173" stroke="#111" stroke-width="0.9"/>
<text x="578.1" y="180.9" font-size="8.1" text-anchor="middle" font-weight="normal" fill="#000">3500</text>
<line x1="625.35" y1="170" x2="625.35" y2="173" stroke="#111" stroke-width="0.9"/>
<text x="625.35" y="180.9" font-size="8.1" text-anchor="middle" font-weight="normal" fill="#000">3550</text>
<line x1="672.6" y1="170" x2="672.6" y2="173" stroke="#111" stroke-width="0.9"/>
<text x="672.6" y="180.9" font-size="8.1" text-anchor="middle" font-weight="normal" fill="#000">3600</text>
<line x1="507.23" y1="170" x2="507.23" y2="171.6" stroke="#111" stroke-width="0.9"/>
<line x1="554.48" y1="170" x2="554.48" y2="171.6" stroke="#111" stroke-width="0.9"/>
<line x1="601.73" y1="170" x2="601.73" y2="171.6" stroke="#111" stroke-width="0.9"/>
<line x1="648.98" y1="170" x2="648.98" y2="171.6" stroke="#111" stroke-width="0.9"/>
<text x="461.2" y="15.5" font-size="21" text-anchor="start" font-weight="bold" fill="#000">c</text>
<text x="475.8" y="93.2" font-size="8.6" text-anchor="middle" font-weight="bold" fill="#000" transform="rotate(-90 475.8 93.2)">Intensity (a.u.)</text>
<text x="581.8" y="189.8" font-size="8.6" text-anchor="middle" font-weight="bold" fill="#000">Magnetic field (G)</text>
<rect x="36.8" y="322.67" width="19.2" height="34.93" fill="url(#g_red)"/>
<line x1="46.4" y1="318.52" x2="46.4" y2="326.82" stroke="#2a2a2a" stroke-width="0.85"/>
<line x1="44.6" y1="318.52" x2="48.2" y2="318.52" stroke="#2a2a2a" stroke-width="0.85"/>
<line x1="44.6" y1="326.82" x2="48.2" y2="326.82" stroke="#2a2a2a" stroke-width="0.85"/>
<text x="46.4" y="342.24" font-size="6.2" text-anchor="middle" font-weight="bold" fill="#000">22.71</text>
<rect x="60.42" y="315.5" width="19.2" height="42.1" fill="url(#g_orange)"/>
<line x1="70.02" y1="311.04" x2="70.02" y2="319.97" stroke="#2a2a2a" stroke-width="0.85"/>
<line x1="68.22" y1="311.04" x2="71.82" y2="311.04" stroke="#2a2a2a" stroke-width="0.85"/>
<line x1="68.22" y1="319.97" x2="71.82" y2="319.97" stroke="#2a2a2a" stroke-width="0.85"/>
<text x="70.02" y="338.65" font-size="6.2" text-anchor="middle" font-weight="bold" fill="#000">27.37</text>
<rect x="84.04" y="299.08" width="19.2" height="58.52" fill="url(#g_yellow)"/>
<line x1="93.64" y1="294.77" x2="93.64" y2="303.39" stroke="#2a2a2a" stroke-width="0.85"/>
<line x1="91.84" y1="294.77" x2="95.44" y2="294.77" stroke="#2a2a2a" stroke-width="0.85"/>
<line x1="91.84" y1="303.39" x2="95.44" y2="303.39" stroke="#2a2a2a" stroke-width="0.85"/>
<text x="93.64" y="330.44" font-size="6.2" text-anchor="middle" font-weight="bold" fill="#000">38.05</text>
<rect x="107.66" y="289.61" width="19.2" height="67.99" fill="url(#g_green)"/>
<line x1="117.26" y1="285.91" x2="117.26" y2="293.3" stroke="#2a2a2a" stroke-width="0.85"/>
<line x1="115.46" y1="285.91" x2="119.06" y2="285.91" stroke="#2a2a2a" stroke-width="0.85"/>
<line x1="115.46" y1="293.3" x2="119.06" y2="293.3" stroke="#2a2a2a" stroke-width="0.85"/>
<text x="117.26" y="325.7" font-size="6.2" text-anchor="middle" font-weight="bold" fill="#000">44.21</text>
<rect x="131.28" y="277.35" width="19.2" height="80.25" fill="url(#g_cyan)"/>
<line x1="140.88" y1="273.19" x2="140.88" y2="281.5" stroke="#2a2a2a" stroke-width="0.85"/>
<line x1="139.08" y1="273.19" x2="142.68" y2="273.19" stroke="#2a2a2a" stroke-width="0.85"/>
<line x1="139.08" y1="281.5" x2="142.68" y2="281.5" stroke="#2a2a2a" stroke-width="0.85"/>
<text x="140.88" y="319.57" font-size="6.2" text-anchor="middle" font-weight="bold" fill="#000">52.18</text>
<rect x="154.9" y="268.57" width="19.2" height="89.03" fill="url(#g_blue)"/>
<line x1="164.5" y1="264.57" x2="164.5" y2="272.56" stroke="#2a2a2a" stroke-width="0.85"/>
<line x1="162.7" y1="264.57" x2="166.3" y2="264.57" stroke="#2a2a2a" stroke-width="0.85"/>
<line x1="162.7" y1="272.56" x2="166.3" y2="272.56" stroke="#2a2a2a" stroke-width="0.85"/>
<text x="164.5" y="315.18" font-size="6.2" text-anchor="middle" font-weight="bold" fill="#000">57.89</text>
<rect x="178.52" y="240.4" width="19.2" height="117.2" fill="url(#g_purple)"/>
<line x1="188.12" y1="236.71" x2="188.12" y2="244.1" stroke="#2a2a2a" stroke-width="0.85"/>
<line x1="186.32" y1="236.71" x2="189.92" y2="236.71" stroke="#2a2a2a" stroke-width="0.85"/>
<line x1="186.32" y1="244.1" x2="189.92" y2="244.1" stroke="#2a2a2a" stroke-width="0.85"/>
<text x="188.12" y="301.1" font-size="6.2" text-anchor="middle" font-weight="bold" fill="#000">76.2</text>
<rect x="202.14" y="215.37" width="19.2" height="142.23" fill="url(#g_magenta)"/>
<line x1="211.74" y1="211.06" x2="211.74" y2="219.67" stroke="#2a2a2a" stroke-width="0.85"/>
<line x1="209.94" y1="211.06" x2="213.54" y2="211.06" stroke="#2a2a2a" stroke-width="0.85"/>
<line x1="209.94" y1="219.67" x2="213.54" y2="219.67" stroke="#2a2a2a" stroke-width="0.85"/>
<text x="211.74" y="288.58" font-size="6.2" text-anchor="middle" font-weight="bold" fill="#000">92.48</text>
<rect x="34.6" y="203.9" width="189.2" height="153.6" fill="none" stroke="#111" stroke-width="1.1"/>
<line x1="31.6" y1="357.6" x2="34.6" y2="357.6" stroke="#111" stroke-width="0.9"/>
<text x="30.4" y="360.48" font-size="8.1" text-anchor="end" font-weight="bold" fill="#000">0</text>
<line x1="31.6" y1="326.84" x2="34.6" y2="326.84" stroke="#111" stroke-width="0.9"/>
<text x="30.4" y="329.72" font-size="8.1" text-anchor="end" font-weight="bold" fill="#000">20</text>
<line x1="31.6" y1="296.08" x2="34.6" y2="296.08" stroke="#111" stroke-width="0.9"/>
<text x="30.4" y="298.96" font-size="8.1" text-anchor="end" font-weight="bold" fill="#000">40</text>
<line x1="31.6" y1="265.32" x2="34.6" y2="265.32" stroke="#111" stroke-width="0.9"/>
<text x="30.4" y="268.2" font-size="8.1" text-anchor="end" font-weight="bold" fill="#000">60</text>
<line x1="31.6" y1="234.56" x2="34.6" y2="234.56" stroke="#111" stroke-width="0.9"/>
<text x="30.4" y="237.44" font-size="8.1" text-anchor="end" font-weight="bold" fill="#000">80</text>
<line x1="31.6" y1="203.8" x2="34.6" y2="203.8" stroke="#111" stroke-width="0.9"/>
<text x="30.4" y="206.68" font-size="8.1" text-anchor="end" font-weight="bold" fill="#000">100</text>
<line x1="33" y1="342.22" x2="34.6" y2="342.22" stroke="#111" stroke-width="0.9"/>
<line x1="33" y1="311.46" x2="34.6" y2="311.46" stroke="#111" stroke-width="0.9"/>
<line x1="33" y1="280.7" x2="34.6" y2="280.7" stroke="#111" stroke-width="0.9"/>
<line x1="33" y1="249.94" x2="34.6" y2="249.94" stroke="#111" stroke-width="0.9"/>
<line x1="33" y1="219.18" x2="34.6" y2="219.18" stroke="#111" stroke-width="0.9"/>
<text x="50.6" y="364.2" font-size="5.3" text-anchor="end" font-weight="bold" fill="#000" transform="rotate(-17 50.6 364.2)">Zn<tspan dy="1.27" font-size="3.82">4</tspan><tspan dy="-1.27">Al</tspan><tspan dy="1.27" font-size="3.82">1</tspan><tspan dy="-1.27">-LDH</tspan></text>
<text x="73.1" y="364.2" font-size="5.3" text-anchor="end" font-weight="bold" fill="#000" transform="rotate(-17 73.1 364.2)">CeO<tspan dy="1.27" font-size="3.82">2</tspan></text>
<text x="95.6" y="364.2" font-size="5.3" text-anchor="end" font-weight="bold" fill="#000" transform="rotate(-17 95.6 364.2)">Zn<tspan dy="1.27" font-size="3.82">3</tspan><tspan dy="-1.27">Cu</tspan><tspan dy="1.27" font-size="3.82">1</tspan><tspan dy="-1.27">Al</tspan><tspan dy="1.27" font-size="3.82">1</tspan><tspan dy="-1.27">-LDH</tspan></text>
<text x="119.7" y="364.2" font-size="5.3" text-anchor="end" font-weight="bold" fill="#000" transform="rotate(-17 119.7 364.2)">Zn<tspan dy="1.27" font-size="3.82">2</tspan><tspan dy="-1.27">Cu</tspan><tspan dy="1.27" font-size="3.82">2</tspan><tspan dy="-1.27">Al</tspan><tspan dy="1.27" font-size="3.82">1</tspan><tspan dy="-1.27">-LDH</tspan></text>
<text x="145" y="364.2" font-size="5.3" text-anchor="end" font-weight="bold" fill="#000" transform="rotate(-17 145 364.2)">Zn<tspan dy="1.27" font-size="3.82">1</tspan><tspan dy="-1.27">Cu</tspan><tspan dy="1.27" font-size="3.82">3</tspan><tspan dy="-1.27">Al</tspan><tspan dy="1.27" font-size="3.82">1</tspan><tspan dy="-1.27">-LDH</tspan></text>
<text x="167.5" y="364.2" font-size="5.3" text-anchor="end" font-weight="bold" fill="#000" transform="rotate(-17 167.5 364.2)">a-Zn<tspan dy="1.27" font-size="3.82">3</tspan><tspan dy="-1.27">Cu</tspan><tspan dy="1.27" font-size="3.82">1</tspan><tspan dy="-1.27">Al</tspan><tspan dy="1.27" font-size="3.82">1</tspan><tspan dy="-1.27">-LDH</tspan></text>
<text x="191.9" y="364.2" font-size="5.3" text-anchor="end" font-weight="bold" fill="#000" transform="rotate(-17 191.9 364.2)">a-Zn<tspan dy="1.27" font-size="3.82">2</tspan><tspan dy="-1.27">Cu</tspan><tspan dy="1.27" font-size="3.82">2</tspan><tspan dy="-1.27">Al</tspan><tspan dy="1.27" font-size="3.82">1</tspan><tspan dy="-1.27">-LDH</tspan></text>
<text x="217.7" y="364.2" font-size="5.3" text-anchor="end" font-weight="bold" fill="#000" transform="rotate(-17 217.7 364.2)">a-Zn<tspan dy="1.27" font-size="3.82">1</tspan><tspan dy="-1.27">Cu</tspan><tspan dy="1.27" font-size="3.82">3</tspan><tspan dy="-1.27">Al</tspan><tspan dy="1.27" font-size="3.82">1</tspan><tspan dy="-1.27">-LDH</tspan></text>
<text x="2.5" y="199.5" font-size="21" text-anchor="start" font-weight="bold" fill="#000">d</text>
<text x="18.3" y="281.7" font-size="8.6" text-anchor="middle" font-weight="bold" fill="#000" transform="rotate(-90 18.3 281.7)">D %</text>
<clipPath id="ce"><rect x="259.8" y="204.3" width="189.2" height="152.7"/></clipPath>
<g clip-path="url(#ce)">
<polyline points="259.9,351.1 264.2,348.8 268.5,345.7 272.7,342 283,332.4 286.5,329.7 289,327.9 292.4,326 295.9,324.7 299.3,323.9 303.6,323.6 306.2,323.8 309.6,324.3 315.6,326.1 321.6,328.8 335.3,336.1 342.1,339.3 349.8,342.1 358.4,344.2 367.8,346 388.4,349.3 409.8,352.3 419.2,353.3 429.5,354.1 451.8,355" fill="none" stroke="#ee30e0" stroke-width="1.2" stroke-linejoin="round" stroke-linecap="round"/>
<polyline points="259.9,348.3 264.2,344.5 268.5,339.6 272.7,333.7 283,318.4 286.5,314 289,311.2 292.4,308.2 295.9,306.1 299.3,304.8 301,304.5 303.6,304.3 306.2,304.5 309.6,305.4 312.1,306.4 315.6,308.3 321.6,312.5 335.3,324.3 342.1,329.4 345.5,331.5 349.8,333.8 354.1,335.7 358.4,337.3 367.8,340.1 388.4,345.4 400.4,348.3 409.8,350.2 419.2,351.8 429.5,353 439.8,353.9 451.8,354.5" fill="none" stroke="#e080f0" stroke-width="1.2" stroke-linejoin="round" stroke-linecap="round"/>
<polyline points="259.9,345.4 262.5,342.4 264.2,340.2 268.5,333.3 272.7,325.1 283,303.9 286.5,297.7 289,293.8 292.4,289.6 295.9,286.7 297.6,285.6 299.3,284.9 301,284.4 303.6,284.2 306.2,284.5 309.6,285.7 312.1,287.2 315.6,289.7 318.1,292.1 321.6,295.7 335.3,312 338.7,315.7 342.1,319.1 345.5,322.1 349.8,325.3 354.1,327.9 358.4,330.1 367.8,334 388.4,341.4 400.4,345.4 409.8,348.1 419.2,350.2 429.5,352 439.8,353.2 451.8,354" fill="none" stroke="#f0b4f0" stroke-width="1.2" stroke-linejoin="round" stroke-linecap="round"/>
<polyline points="259.9,342.3 262.5,338.4 264.2,335.4 268.5,326.5 272.7,315.8 283,288 286.5,280 289,274.8 292.4,269.3 294.2,267.2 295.9,265.5 297.6,264.1 299.3,263.2 301,262.6 303.6,262.3 306.2,262.7 307.9,263.4 309.6,264.3 312.1,266.2 315.6,269.5 318.1,272.6 321.6,277.3 335.3,298.6 338.7,303.5 342.1,307.9 345.5,311.8 349.8,316 354.1,319.4 358.4,322.2 362.7,324.7 367.8,327.3 388.4,337 400.4,342.3 409.8,345.8 419.2,348.6 429.5,350.9 439.8,352.5 451.8,353.6" fill="none" stroke="#7a2ae0" stroke-width="1.2" stroke-linejoin="round" stroke-linecap="round"/>
<polyline points="259.9,339.9 262.5,335.4 264.2,331.9 268.5,321.5 272.7,309 283,276.4 286.5,267.1 289,261.1 292.4,254.7 294.2,252.2 295.9,250.1 297.6,248.6 299.3,247.4 301,246.7 303.6,246.4 306.2,246.9 307.9,247.7 309.6,248.7 312.1,250.9 315.6,254.8 318.1,258.4 321.6,263.9 335.3,288.9 338.7,294.6 342.1,299.8 345.5,304.3 349.8,309.1 354.1,313.1 358.4,316.5 362.7,319.4 367.8,322.5 388.4,333.8 400.4,339.9 409.8,344 419.2,347.3 429.5,350 439.8,351.8 451.8,353.1" fill="none" stroke="#1a1ac4" stroke-width="1.2" stroke-linejoin="round" stroke-linecap="round"/>
<polyline points="259.9,338.1 262.5,333.1 264.2,329.2 268.5,317.5 272.7,303.6 283,267.4 286.5,257 289,250.3 292.4,243.2 294.2,240.4 295.9,238.2 297.6,236.4 299.3,235.2 301,234.4 303.6,234 306.2,234.6 307.9,235.4 309.6,236.6 312.1,239.1 315.6,243.4 318.1,247.4 321.6,253.5 335.3,281.3 338.7,287.6 342.1,293.4 345.5,298.5 349.8,303.8 354.1,308.3 358.4,312 362.7,315.2 367.8,318.6 388.4,331.3 400.4,338 409.8,342.6 419.2,346.3 424.3,347.9 429.5,349.3 439.8,351.3 451.8,352.7" fill="none" stroke="#40e8f0" stroke-width="1.2" stroke-linejoin="round" stroke-linecap="round"/>
<polyline points="259.9,336.4 262.5,330.9 264.2,326.6 268.5,313.9 272.7,298.7 283,259.1 286.5,247.7 289,240.4 292.4,232.6 294.2,229.6 295.9,227.2 297.6,225.2 299.3,223.9 301,223 303.6,222.6 306.2,223.2 307.9,224.1 309.6,225.5 312.1,228.1 315.6,232.9 318.1,237.2 321.6,243.9 335.3,274.3 338.7,281.2 342.1,287.5 345.5,293.1 349.8,298.9 354.1,303.8 358.4,307.9 362.7,311.4 367.8,315.1 388.4,328.9 400.4,336.3 409.8,341.3 419.2,345.4 424.3,347.2 429.5,348.6 439.8,350.9 451.8,352.4" fill="none" stroke="#28e028" stroke-width="1.2" stroke-linejoin="round" stroke-linecap="round"/>
<polyline points="259.9,335.2 262.5,329.4 264.2,324.8 268.5,311.4 272.7,295.2 283,253.3 286.5,241.2 289,233.5 292.4,225.2 294.2,222 295.9,219.4 297.6,217.4 299.3,215.9 301,215 301.9,214.7 303.6,214.6 306.2,215.2 307.9,216.2 309.6,217.6 312.1,220.4 315.6,225.4 318.1,230.1 321.6,237.1 335.3,269.3 338.7,276.7 342.1,283.4 345.5,289.2 349.8,295.5 354.1,300.6 358.4,304.9 362.7,308.7 367.8,312.6 388.4,327.3 400.4,335.1 409.8,340.4 414.9,342.9 419.2,344.7 424.3,346.6 429.5,348.2 434.6,349.5 439.8,350.5 445.8,351.5 451.8,352.2" fill="none" stroke="#f09040" stroke-width="1.2" stroke-linejoin="round" stroke-linecap="round"/>
<polyline points="259.9,335 262.5,329.1 264.2,324.6 268.5,311 272.7,294.7 283,252.5 286.5,240.3 289,232.5 292.4,224.1 294.2,220.9 295.9,218.3 297.6,216.2 299.3,214.8 301,213.8 301.9,213.6 303.6,213.4 306.2,214.1 307.9,215.1 309.6,216.5 312.1,219.3 315.6,224.4 318.1,229 321.6,236.2 335.3,268.6 338.7,276.1 342.1,282.8 345.5,288.7 349.8,295 354.1,300.2 358.4,304.5 362.7,308.3 367.8,312.3 388.4,327 400.4,335 409.8,340.3 414.9,342.8 419.2,344.6 424.3,346.5 429.5,348.1 434.6,349.4 439.8,350.5 445.8,351.4 451.8,352.1" fill="none" stroke="#e8181e" stroke-width="1.2" stroke-linejoin="round" stroke-linecap="round"/>
</g>
<line x1="376.7" y1="214.5" x2="391.7" y2="214.5" stroke="#e8181e" stroke-width="1.4"/>
<text x="393.3" y="216.6" font-size="6.4" text-anchor="start" font-weight="bold" fill="#000">Control</text>
<line x1="376.7" y1="222.8" x2="391.7" y2="222.8" stroke="#f09040" stroke-width="1.4"/>
<text x="393.3" y="224.9" font-size="6.4" text-anchor="start" font-weight="bold" fill="#000">Zn<tspan dy="1.54" font-size="4.61">4</tspan><tspan dy="-1.54">Al</tspan><tspan dy="1.54" font-size="4.61">1</tspan><tspan dy="-1.54">-LDH</tspan></text>
<line x1="376.7" y1="232.3" x2="391.7" y2="232.3" stroke="#28e028" stroke-width="1.4"/>
<text x="393.3" y="234.4" font-size="6.4" text-anchor="start" font-weight="bold" fill="#000">CeO<tspan dy="1.54" font-size="4.61">2</tspan></text>
<line x1="376.7" y1="242" x2="391.7" y2="242" stroke="#40e8f0" stroke-width="1.4"/>
<text x="393.3" y="244.1" font-size="6.4" text-anchor="start" font-weight="bold" fill="#000">Zn<tspan dy="1.54" font-size="4.61">3</tspan><tspan dy="-1.54">Cu</tspan><tspan dy="1.54" font-size="4.61">1</tspan><tspan dy="-1.54">Al</tspan><tspan dy="1.54" font-size="4.61">1</tspan><tspan dy="-1.54">-LDH</tspan></text>
<line x1="376.7" y1="251.5" x2="391.7" y2="251.5" stroke="#1a1ac4" stroke-width="1.4"/>
<text x="393.3" y="253.6" font-size="6.4" text-anchor="start" font-weight="bold" fill="#000">Zn<tspan dy="1.54" font-size="4.61">2</tspan><tspan dy="-1.54">Cu</tspan><tspan dy="1.54" font-size="4.61">2</tspan><tspan dy="-1.54">Al</tspan><tspan dy="1.54" font-size="4.61">1</tspan><tspan dy="-1.54">-LDH</tspan></text>
<line x1="376.7" y1="260.9" x2="391.7" y2="260.9" stroke="#7a2ae0" stroke-width="1.4"/>
<text x="393.3" y="263" font-size="6.4" text-anchor="start" font-weight="bold" fill="#000">Zn<tspan dy="1.54" font-size="4.61">1</tspan><tspan dy="-1.54">Cu</tspan><tspan dy="1.54" font-size="4.61">3</tspan><tspan dy="-1.54">Al</tspan><tspan dy="1.54" font-size="4.61">1</tspan><tspan dy="-1.54">-LDH</tspan></text>
<line x1="376.7" y1="270.9" x2="391.7" y2="270.9" stroke="#f0b4f0" stroke-width="1.4"/>
<text x="393.3" y="273" font-size="6.4" text-anchor="start" font-weight="bold" fill="#000">a-Zn<tspan dy="1.54" font-size="4.61">3</tspan><tspan dy="-1.54">Cu</tspan><tspan dy="1.54" font-size="4.61">1</tspan><tspan dy="-1.54">Al</tspan><tspan dy="1.54" font-size="4.61">1</tspan><tspan dy="-1.54">-LDH</tspan></text>
<line x1="376.7" y1="280.4" x2="391.7" y2="280.4" stroke="#e080f0" stroke-width="1.4"/>
<text x="393.3" y="282.5" font-size="6.4" text-anchor="start" font-weight="bold" fill="#000">a-Zn<tspan dy="1.54" font-size="4.61">2</tspan><tspan dy="-1.54">Cu</tspan><tspan dy="1.54" font-size="4.61">2</tspan><tspan dy="-1.54">Al</tspan><tspan dy="1.54" font-size="4.61">1</tspan><tspan dy="-1.54">-LDH</tspan></text>
<line x1="376.7" y1="290.2" x2="391.7" y2="290.2" stroke="#ee30e0" stroke-width="1.4"/>
<text x="393.3" y="292.3" font-size="6.4" text-anchor="start" font-weight="bold" fill="#000">a-Zn<tspan dy="1.54" font-size="4.61">1</tspan><tspan dy="-1.54">Cu</tspan><tspan dy="1.54" font-size="4.61">3</tspan><tspan dy="-1.54">Al</tspan><tspan dy="1.54" font-size="4.61">1</tspan><tspan dy="-1.54">-LDH</tspan></text>
<line x1="449" y1="203.75" x2="449" y2="357.55" stroke="#4a4a4a" stroke-width="1.6"/>
<line x1="259.25" y1="204.3" x2="449.55" y2="204.3" stroke="#111" stroke-width="1.15"/>
<line x1="259.25" y1="357" x2="449.55" y2="357" stroke="#111" stroke-width="1.15"/>
<line x1="259.8" y1="203.75" x2="259.8" y2="357.55" stroke="#111" stroke-width="1.15"/>
<line x1="259.9" y1="357" x2="259.9" y2="360" stroke="#111" stroke-width="0.9"/>
<text x="259.9" y="367.7" font-size="8.1" text-anchor="middle" font-weight="bold" fill="#000">500</text>
<line x1="302.72" y1="357" x2="302.72" y2="360" stroke="#111" stroke-width="0.9"/>
<text x="302.72" y="367.7" font-size="8.1" text-anchor="middle" font-weight="bold" fill="#000">525</text>
<line x1="345.55" y1="357" x2="345.55" y2="360" stroke="#111" stroke-width="0.9"/>
<text x="345.55" y="367.7" font-size="8.1" text-anchor="middle" font-weight="bold" fill="#000">550</text>
<line x1="388.38" y1="357" x2="388.38" y2="360" stroke="#111" stroke-width="0.9"/>
<text x="388.38" y="367.7" font-size="8.1" text-anchor="middle" font-weight="bold" fill="#000">575</text>
<line x1="431.2" y1="357" x2="431.2" y2="360" stroke="#111" stroke-width="0.9"/>
<text x="431.2" y="367.7" font-size="8.1" text-anchor="middle" font-weight="bold" fill="#000">600</text>
<line x1="281.31" y1="357" x2="281.31" y2="358.6" stroke="#111" stroke-width="0.9"/>
<line x1="324.14" y1="357" x2="324.14" y2="358.6" stroke="#111" stroke-width="0.9"/>
<line x1="366.96" y1="357" x2="366.96" y2="358.6" stroke="#111" stroke-width="0.9"/>
<line x1="409.79" y1="357" x2="409.79" y2="358.6" stroke="#111" stroke-width="0.9"/>
<line x1="256.8" y1="356.3" x2="259.8" y2="356.3" stroke="#111" stroke-width="0.9"/>
<text x="255.6" y="359.18" font-size="8.1" text-anchor="end" font-weight="bold" fill="#000">0</text>
<line x1="256.8" y1="318.3" x2="259.8" y2="318.3" stroke="#111" stroke-width="0.9"/>
<text x="255.6" y="321.18" font-size="8.1" text-anchor="end" font-weight="bold" fill="#000">1000</text>
<line x1="256.8" y1="280.3" x2="259.8" y2="280.3" stroke="#111" stroke-width="0.9"/>
<text x="255.6" y="283.18" font-size="8.1" text-anchor="end" font-weight="bold" fill="#000">2000</text>
<line x1="256.8" y1="242.3" x2="259.8" y2="242.3" stroke="#111" stroke-width="0.9"/>
<text x="255.6" y="245.18" font-size="8.1" text-anchor="end" font-weight="bold" fill="#000">3000</text>
<line x1="256.8" y1="204.3" x2="259.8" y2="204.3" stroke="#111" stroke-width="0.9"/>
<text x="255.6" y="207.18" font-size="8.1" text-anchor="end" font-weight="bold" fill="#000">4000</text>
<line x1="258.2" y1="337.3" x2="259.8" y2="337.3" stroke="#111" stroke-width="0.9"/>
<line x1="258.2" y1="299.3" x2="259.8" y2="299.3" stroke="#111" stroke-width="0.9"/>
<line x1="258.2" y1="261.3" x2="259.8" y2="261.3" stroke="#111" stroke-width="0.9"/>
<line x1="258.2" y1="223.3" x2="259.8" y2="223.3" stroke="#111" stroke-width="0.9"/>
<text x="228.7" y="199.8" font-size="21" text-anchor="start" font-weight="bold" fill="#000">e</text>
<text x="235.1" y="280.6" font-size="8.6" text-anchor="middle" font-weight="bold" fill="#000" transform="rotate(-90 235.1 280.6)">Intensity</text>
<text x="354.3" y="377.8" font-size="8.6" text-anchor="middle" font-weight="bold" fill="#000">Wavelength (nm)</text>
<clipPath id="cf"><rect x="483.8" y="203.3" width="188.8" height="152.6"/></clipPath>
<g clip-path="url(#cf)">
<polyline points="483.8,214.8 484.1,214.7 484.9,215.2 485.8,214.6 486.6,214.9 488,214.3 489.2,214.9 489.8,214.6 490.4,214.6 490.6,214.8 490.9,214.6 491.7,214.9 492.4,214.6 492.9,214.9 493.8,215 494.8,214.5 495.7,215.1 496.4,214.6 496.7,214.6 497.2,214.9 498.2,214.9 498.4,215.1 499.2,214.9 499.7,214.6 500.8,215 501.2,214.8 501.5,214.9 501.8,214.8 502,215 502.3,214.8 503.1,215 503.3,214.6 504,214.7 504.1,214.6 504.4,214.8 504.9,214.7 505,214.9 505.4,214.7 506,215.2 506.1,215.1 506.4,215.1 506.8,214.5 507.3,214.7 507.5,214.7 507.6,214.8 507.9,214.7 508.3,214.9 508.6,214.8 508.7,215 509,214.7 509.3,214.9 510.1,214.9 510.9,215.2 511.7,214.7 512.8,215 512.9,214.8 516.2,214.9 516.4,214.7 516.7,214.8 517.3,214.6 517.4,214.8 517.6,214.6 518.4,214.9 519.2,214.6 520,215.2 520.8,214.7 522.1,214.8 522.2,214.7 522.5,215 522.9,214.9 523.1,215 523.4,214.6 524.9,214.8 525.4,214.4 526.8,214.8 527,215 527.3,214.8 528,215 528.5,214.9 528.5,215.1 528.8,214.7 529.3,215 529.5,214.8 529.7,214.9 530.1,214.8 530.9,215 531.4,214.7 533.1,214.9 533.8,214.5 534.4,214.9 535,214.9 535.3,214.6 536.5,215 537.2,214.5 540.2,215.2 540.7,214.7 541.1,214.7 541.6,215.1 542.5,214.6 543.1,215 543.7,214.5 544.6,215.1 545.3,214.6 547.7,214.9 548.6,214.6 548.7,214.8 548.9,214.7 549.4,214.9 549.6,214.6 549.8,214.9 550.4,214.9 550.6,214.8 550.9,215 551.8,214.5 552.8,214.8 553.3,215.2 554.3,215 555.1,214.4 555.9,214.7 556.6,214.7 557.7,212.4 558.1,213.1 558.9,217.5 559.2,217.2 559.8,215.5 560.3,214.8 560.8,214.7 561.7,215 562.2,214.8 563.1,214.9 563.9,214.5 564.8,214.8 565.6,214.7 566.2,214.9 567.3,214.3 567.9,214.4 568.8,213.4 570,212.9 570.6,213.3 573,216.6 573.4,217.1 573.7,217 575.6,215.8 576,215.2 576.5,215.1 576.8,215.3 578.1,214.6 578.4,214.9 579.2,214.9 581,214.1 582.6,212.5 583,212.4 584.3,214 585.6,216.5 586.2,216.8 586.8,216.3 587.6,216.2 588.4,215.4 589.2,215.4 590,214.7 590.9,214.8 591.2,215 592.1,214.7 592.9,215.1 594.1,214.5 594.9,214.8 596.1,214.5 597.1,212.4 597.5,213.2 598,216.6 598.3,217.4 599.7,214.7 601,215 601.5,214.5 603,215.1 603.8,214.6 604.3,214.6 604.8,214.9 606,214.5 606.7,214.9 607.3,214.6 607.7,214.8 608.4,214.5 609.1,215 610.3,214.6 610.9,214.8 612.2,214.8 613.2,214.5 613.8,215 615.1,214.6 615.5,214.6 615.7,214.9 616.5,214.6 617.2,214.9 617.6,214.6 618.6,214.8 619.5,214.5 619.6,214.8 620.1,214.7 620.2,214.9 620.7,214.7 621,214.9 621.1,214.8 621.9,215 622.1,214.8 623.1,215 624.3,214.7 624.6,214.8 624.7,214.7 625.5,215 626.3,214.7 627.4,215.1 628.2,214.5 628.7,214.8 629.9,214.6 630.8,215 631.1,214.7 631.7,214.6 632.2,214.8 632.9,214.8 633,214.6 633.4,214.7 633.7,214.6 634.8,215 635.2,214.9 635.3,215 635.9,214.5 636.4,214.8 636.6,214.6 637.2,215 638.3,214.6 638.7,214.8 639,214.7 639.7,214.8 640,215.1 640.2,214.9 640.5,215.1 640.8,214.9 641,215 641.4,214.7 641.5,214.9 641.8,214.8 642.1,215.2 643,214.8 644.1,215.1 644.6,214.7 645.4,215.1 645.7,214.8 646.4,214.7 647.2,215.1 647.6,214.8 647.8,214.9 648.1,214.7 648.6,214.7 649.1,214.9 649.8,214.8 649.9,214.5 651.2,215 651.7,215 652.2,214.7 652.9,215.2 653.5,214.7 654.6,214.7 654.9,214.9 655.3,214.6 656.4,214.8 657,214.6 657.8,214.8 658.5,214.7 659.1,214.9 660.4,214.8 660.5,214.9 661.2,215 661.3,215.1 663.3,214.7 663.5,215 663.9,214.8 664.9,215.1 665.7,214.5 666.3,214.6 666.9,215.2 667.5,215.1 668.2,214.7 668.8,215 670.7,214.7 670.9,214.9 671.6,214.7 671.8,214.5 671.9,214.7 672.6,214.9" fill="none" stroke="#e8202a" stroke-width="1.3" stroke-linejoin="round" stroke-linecap="round"/>
<polyline points="483.8,229.5 485.3,229.7 485.6,229.5 485.8,229.8 486.3,229.6 486.4,229.8 486.8,229.4 487.6,229.8 488.7,229.5 489.4,229.8 490.5,229.5 491.4,229.8 492.1,229.5 492.9,229.8 493.7,229.5 494.6,229.7 494.8,229.5 494.9,229.8 495.4,229.6 495.6,229.8 495.8,229.6 496.6,229.8 497.5,229.6 498.4,229.8 498.9,229.7 499.2,229.4 500.1,229.7 500.6,229.6 500.8,229.4 501.4,229.6 501.5,229.5 501.6,229.8 502.7,229.4 503.8,229.8 506.6,229.8 507.2,229.6 508.9,229.8 509.9,229.5 510,229.7 510.5,229.6 510.8,229.8 511.6,229.4 512.4,229.6 512.9,229.4 513.4,229.8 514.4,229.8 515.2,229.4 515.5,229.7 516.1,229.8 518.4,229.4 519.2,229.7 519.4,229.5 520,229.4 521.3,229.8 522,229.5 522.8,229.8 523.4,229.5 524.2,229.4 524.7,229.4 525.1,229.8 525.9,229.2 526.7,229.5 527.1,229.2 528.1,229.7 529.5,229.3 530.3,229.7 530.7,229.6 531,229.8 531.5,229.6 531.6,229.8 531.8,229.6 532.7,229.6 532.9,229.4 534,229.9 534.3,229.4 534.9,229.3 535.7,229.7 536.5,229.4 536.9,229.5 537.6,229.4 537.9,229.8 538.5,229.8 538.7,229.6 539.5,230.2 540.5,229.4 541,229.4 541.4,229.7 542.1,229.4 542.5,229.5 542.7,229.3 542.9,229.5 543.4,229.4 543.6,229.7 544.2,229.5 545,229.9 545.5,229.8 546.1,230 546.5,229.7 547,229.6 547.4,229.8 548.1,229.5 548.6,229.7 549.4,229.7 549.9,230.2 550.4,230 550.6,229.6 551.1,229.4 552.5,229.6 552.9,229.5 553.4,229.8 554.4,229.5 555.5,229.8 555.8,229.6 556.7,229.6 557.1,229.3 557.8,227.4 558.8,231.5 559.2,232 559.8,230.3 560.2,229.7 562.2,229.5 562.9,229.7 563.3,229.4 564.1,229.7 564.6,229.2 566.5,229.6 567.2,229.2 567.4,229 568.4,228.8 569.4,228.1 569.6,228.1 570,227.9 570.9,228.2 572.3,230.6 573.7,231.3 575.3,230.7 575.7,230 576.4,229.7 576.7,229.8 576.9,229.5 577.8,229.8 578.4,229.6 579.2,229.9 579.6,229.8 580.1,229.3 580.7,229 581.2,228.5 581.6,228.4 581.9,228.6 582.7,227.9 583.4,227.9 583.8,228.2 584,228.1 584.5,228.9 585.7,231 586.1,231.4 586.8,231.6 587.5,231.2 588.6,230.1 589.7,229.7 590.9,229.5 591.5,229.7 592,229.5 592.9,229.9 594,229.4 594.5,229.7 595,229.4 595.2,229.7 595.5,229.5 595.7,229.8 596.4,228.9 596.9,227.7 597.2,227.6 597.5,228.2 598.1,231.6 598.4,231.9 599,230.4 599.5,229.4 600.1,229.5 600.4,229.7 600.8,229.6 601.5,229.8 601.9,229.7 602.4,229.2 603.1,229.6 604.3,229.4 605.1,229.8 605.6,229.4 605.8,229.5 606.5,229.3 607,229.6 607.8,229.3 608.4,229.7 609.2,229.5 609.5,229.9 610.4,229.4 611.2,229.7 612.1,229.3 612.8,229.7 613.4,229.5 613.6,229.8 613.7,229.6 614.1,229.9 614.5,229.6 615.2,230 615.8,229.5 616.2,229.6 616.3,229.4 616.6,229.6 617.1,229.6 617.2,229.7 617.4,229.5 617.7,229.6 618.5,229.5 619.2,230 620.3,229.6 620.7,229.8 621.5,229.4 621.8,229.7 622.7,229.6 623.1,230 624,229.6 624.6,229.9 625.1,229.7 625.4,229.2 625.9,229.1 626.2,229.4 626.5,229.3 627.3,229.5 628,229.9 628.9,229.4 629.7,229.7 630.7,229.3 631,229.6 631.1,229.3 631.5,229.7 632,229.8 632.8,229.8 633.3,229.5 633.9,229.8 634.1,229.6 634.7,229.5 635,229.8 635.6,229.7 635.8,229.9 636.4,229.7 636.8,229.4 637,229.6 637.9,229.4 638.2,229.8 638.7,229.8 639.3,229.3 639.9,229.8 640.2,229.8 640.7,229.5 641.1,229.8 642.8,229.3 643.6,229.9 643.8,229.8 644.2,230.1 644.8,229.3 645.6,229.8 646.5,229.4 646.7,229.6 647.1,229.5 647.8,229.6 648,229.7 648.1,229.6 648.9,229.8 652.2,229.2 653,229.7 653.5,229.5 654.4,229.7 654.9,229.3 655.4,229.5 655.5,229.3 655.7,229.5 656.1,229.3 656.4,229.6 657.8,229.8 659.4,229.3 660.5,229.8 661,229.3 661.4,229.2 661.8,229.7 662.2,229.8 663.2,229.3 664.6,229.8 665.2,229.5 666,229.6 666.3,229.4 667.1,229.7 667.3,229.5 668,229.4 668.5,229.3 669.5,229.6 670,229.5 670.1,229.6 670.3,229.4 670.6,229.6 670.9,229.5 671.2,229.7 671.5,229.5 672.2,229.7 672.6,229.5" fill="none" stroke="#f09030" stroke-width="1.3" stroke-linejoin="round" stroke-linecap="round"/>
<polyline points="483.8,244.9 484.6,244.6 485.2,244.9 485.9,244.6 486.2,244.9 486.5,244.8 486.7,244.9 487,244.6 487.6,244.9 487.9,244.7 488.2,244.8 488.8,244.5 489.5,244.7 489.7,245.1 490.7,244.8 491.4,244.7 491.6,244.9 492.4,244.8 493,245.1 493.8,244.5 494.5,244.9 495.2,244.7 495.5,244.9 496,244.9 496.4,244.6 497.2,245 497.5,244.8 499.1,245 499.7,244.7 500.8,245 501.1,244.7 501.3,244.9 501.5,244.7 502,244.8 502.1,244.6 502.9,244.8 503,245 504.3,244.5 505.1,245 505.3,244.6 505.6,244.6 506,244.7 506.3,245.1 506.6,245 506.7,245.1 506.9,244.9 507.5,245 507.7,244.8 508.3,244.9 509,245.2 509.8,244.6 510,244.6 510.6,245.2 511.3,244.7 512,244.9 512.4,244.5 513.9,245 514.2,244.8 514.4,244.9 514.5,244.8 514.7,244.9 515.3,244.9 515.6,244.7 515.8,244.8 516.7,244.4 518.7,245.1 519.1,244.8 519.8,244.9 520.5,244.4 520.9,244.8 521.7,244.7 522.1,245.1 523,244.8 523.7,245 524.7,244.5 524.8,244.7 525.1,244.5 525.9,245.3 526.7,245.1 526.8,245.2 527.4,244.8 528.5,244.5 528.8,244.8 529.2,244.6 530.8,245.1 531.5,244.8 532.1,245 533,244.8 533.6,245 534.5,244.5 535.2,245.1 536,244.8 536.5,245.1 536.9,245 537.6,244.5 538.5,245 539.2,244.7 539.4,244.9 539.7,244.8 540.1,245 540.6,244.7 541.1,244.7 541.3,245 542,244.9 542.4,244.5 542.9,244.5 543.3,244.9 543.9,245.1 544.6,244.7 545.8,244.9 546.6,244.5 547.4,244.9 547.5,244.7 547.7,244.9 548.3,244.7 548.4,244.8 548.7,244.5 550.5,245.1 550.9,244.7 551.6,244.8 551.8,244.6 552.8,245.2 553.8,245.1 554.5,244.5 554.9,244.7 555.4,244.6 555.6,244.9 556.3,244.8 556.5,244.5 556.9,244.3 557.7,242.4 558.1,243.3 558.9,247.6 559.7,245.5 560.4,244.8 560.9,244.7 561.6,244.9 562.4,244.5 562.8,244.9 563.2,244.7 563.9,244.7 564,244.9 564.4,244.7 564.7,244.8 565.1,244.7 565.2,244.8 565.7,244.8 565.9,245 566.9,244.1 567.5,244.5 568.3,243.9 568.5,244 569.5,242.6 570.7,243.3 572.3,245.4 572.5,246.1 572.7,246 573.1,246.6 573.3,246.4 573.6,246.6 574.1,246.5 574.5,246.1 574.9,246 575.8,244.9 576.3,245.2 576.9,245.1 577.3,244.7 577.8,244.9 578,245.1 578.9,244.6 579.1,244.6 579.4,244.9 580,244.9 581.5,243.8 582.4,242.7 582.9,242.6 583.6,243.1 584.1,244 584.9,244.9 585.5,246.1 585.9,246.6 586.3,246.6 586.5,246.8 587.1,246.6 587.2,246.7 587.4,246.4 587.7,246.4 589,245.3 589.5,245.4 589.6,245.2 590.3,245 591.3,245 592.2,244.5 592.5,244.9 593.3,245 594.3,244.7 594.7,245.1 595,245.1 595.2,245.3 596.1,244.7 596.8,243.1 597.2,242.6 597.6,243.6 598.1,246.5 598.5,247 599.3,245.4 599.7,244.9 601.5,245.1 602.5,244.8 602.6,245 603.4,244.6 604.2,245 605.2,244.6 606,244.8 606.1,244.6 607,245 607.5,244.8 607.7,245 608.5,244.7 608.6,244.9 609,244.6 609.2,244.9 609.4,244.7 609.7,245 610,244.8 610.9,245 611.9,244.6 612.2,244.7 612.3,244.9 613.1,244.6 613.7,245 614.3,245 614.4,244.7 615.4,245.1 616.2,244.7 617.1,245.2 617.6,244.8 617.7,245 617.8,244.8 618.3,245 618.5,244.7 619,244.8 619.2,244.7 619.5,245.1 620.3,244.6 621,245 621.7,244.7 622.7,244.8 622.9,244.9 623.6,244.8 624.8,245 626.3,244.7 626.9,244.7 627,244.9 627.4,244.6 627.7,244.7 627.9,244.5 628.3,244.9 629,244.5 629.4,244.7 629.8,244.8 630.5,244.6 630.7,244.8 631.3,244.9 632.3,244.4 633.3,244.9 633.7,244.8 634,245 634.2,244.8 634.7,245 636.2,244.8 637,244.9 637.5,244.6 638,244.5 638.3,244.9 638.8,245 639,244.7 639.5,244.7 640.2,245 640.8,244.8 641.5,245.1 641.9,244.9 642.4,245.1 642.9,244.9 643,245 643.2,244.7 643.8,244.5 644.5,244.7 644.8,245.1 645.7,244.8 646.8,244.9 647.4,244.6 648.2,245.2 649.3,244.6 649.8,245 650.6,244.7 651.6,245 652.7,244.5 653.6,245.1 654.4,244.7 654.8,244.8 654.9,244.7 655.2,244.9 655.6,244.6 656.7,244.9 656.9,244.8 657.3,245.1 659.1,244.6 660,245.1 660.8,244.8 661.5,245 662.8,244.6 663.5,244.9 663.7,244.7 663.9,245 664.6,244.9 665,244.6 666.7,245.1 667.9,244.8 668,244.9 668.3,244.8 668.4,244.9 668.8,244.7 669.6,245 669.8,244.9 670.1,245 670.4,244.8 670.6,245 671,244.9 671.3,245 672.1,244.5 672.6,244.6" fill="none" stroke="#30e030" stroke-width="1.3" stroke-linejoin="round" stroke-linecap="round"/>
<polyline points="483.8,260.1 484.2,260.2 484.4,260 485,259.9 485.2,260.1 485.9,259.8 487.6,260.2 488,259.9 488.4,259.8 489.6,260.3 489.7,260.1 489.8,260.2 490.4,260 490.9,260.1 491.4,259.8 491.6,260 491.7,259.8 492.4,260.2 493.2,259.9 493.6,260 493.9,259.7 494.5,259.9 494.8,260.2 495.2,259.9 495.4,260 495.7,259.6 496.5,260 496.8,259.8 497.2,260.1 498.1,260 498.4,260.2 499,259.9 500.5,259.7 501.9,260.1 502.8,259.9 503.3,260.1 503.7,260 504.4,260.2 505,260.1 505.4,260.2 506.3,260 506.6,260.1 507.4,259.7 508.2,260 509.2,259.7 510.8,260 511.2,259.9 511.7,259.9 512.3,260.4 512.8,260 513,260.1 513.3,259.9 514.4,260.3 515,259.7 515.4,260.1 515.7,260.2 516,260.1 516.1,259.9 516.7,259.9 516.8,259.7 518.5,260.2 519.1,259.9 520.4,259.8 520.8,260.1 521,259.9 521.3,260.1 522.4,259.6 523.4,260 523.6,259.8 524,259.8 524.5,260.1 525.5,260.2 527.1,259.7 527.4,260 527.6,259.7 528.3,259.9 528.6,260.3 528.8,260.1 529.7,260.2 530.3,259.6 532.9,260.1 533.4,259.9 533.9,260.1 534.9,259.8 536.1,260.1 536.4,259.9 536.7,260.2 537,260.1 537.2,260.3 537.4,260 537.9,259.9 538,259.7 538.3,260 538.6,259.9 538.9,260.1 539,259.9 540,259.8 540.3,260.1 540.9,260.1 542,259.7 542.6,260.2 543.7,259.8 544.1,260 545.3,260.2 545.8,259.9 546.6,260.1 547.7,259.5 548.6,260.1 549.3,259.9 549.6,260.1 549.8,259.9 550.7,260.2 550.9,260.1 551.1,260.3 551.3,260 551.8,260.1 551.9,259.9 552.4,260.2 553.8,259.9 554.4,260.2 555.2,260 556.8,259.9 557.7,258.1 558.2,259 558.8,261.9 558.9,262.2 559.2,262 560,260.1 560.6,260.2 561.5,259.6 562.1,260.2 562.2,260.1 562.6,260.3 563.1,260.3 563.5,259.9 563.9,259.8 564.3,260.2 564.7,260.2 565.6,260 565.9,260.1 566.1,259.9 566.8,260 567.8,259.7 568.5,258.9 569.5,258.8 570.1,258.4 570.4,258.4 571.8,260.1 572.3,260.4 573,261.2 573.8,261.5 574.1,261.4 575,260.5 576.1,260.3 576.5,260 577.1,260.1 577.6,259.9 578.5,260.3 579,259.9 580.1,259.8 580.5,259.6 580.8,259.7 582.1,258.6 582.4,258.8 582.6,258.6 583.7,258.5 584.6,259.6 585.5,261.2 586.2,261.2 586.7,261.5 587.5,261.1 587.9,261.2 588.8,260.3 590,259.9 590.6,260.3 592,259.8 592.8,260.2 594.1,259.8 594.2,260 594.4,259.8 594.9,260 595.9,260 596.3,259.7 597,257.9 597.2,257.8 598.3,261.8 598.5,261.7 599.1,260.6 599.6,260.1 600.6,260.2 601.2,259.7 603,260.2 604.4,260 604.8,259.7 605.5,260.1 606.5,259.8 607.7,260 607.8,259.8 608.3,259.8 608.4,259.7 609.3,260.1 611.2,259.9 611.5,260.2 612,260.2 612.4,260 613.5,260.1 613.8,259.9 614.5,260 615,259.8 616.2,260.3 617.2,259.9 617.9,260 619,259.9 619.8,260.4 620.7,259.8 621.2,260.1 622,259.9 622.8,260.3 623.1,260.2 623.6,259.8 624.3,259.7 625.1,260 625.6,259.9 625.8,260.1 627.4,259.7 628,259.9 628.4,259.8 628.6,260 628.8,259.8 629.6,260.1 630,259.8 630.4,259.7 630.9,260 631.4,259.9 631.7,259.6 633.4,260.3 634.3,259.9 634.6,260 634.7,259.8 635.1,260.2 635.3,260.1 635.6,260.3 637.7,259.5 638.2,259.6 638.5,260 639.1,260.1 639.5,259.9 639.7,260.1 639.9,260 640.3,260.2 641.2,259.6 641.5,260 641.7,259.9 642.1,260.1 642.4,259.9 642.5,260.1 643.1,260.1 643.3,259.6 644,259.5 644.2,259.8 645.5,260.4 647.9,259.8 648.8,260.1 649,260 649.7,260.2 650.5,259.8 651.1,260.1 651.8,260 652,260.2 652.9,259.9 653.1,260.2 653.9,260 654.6,260.3 654.9,260.3 655.5,259.7 656.8,260.2 657.5,259.7 658.1,259.9 658.3,260.1 658.5,260 659.2,260 659.4,260.2 659.7,259.9 660,260.1 660.2,260 660.5,260.2 660.9,260.1 661.2,260.4 661.5,260.1 662.8,260 662.9,259.9 663.7,260 663.9,259.8 664.8,260.4 665.4,260 666.2,260.4 666.8,260.3 667.8,259.8 668.6,260.1 669.3,259.7 669.8,259.8 670,260.1 671.2,260.1 671.4,259.9 671.7,260 672.6,260.1" fill="none" stroke="#38e8f0" stroke-width="1.3" stroke-linejoin="round" stroke-linecap="round"/>
<polyline points="483.8,274.5 484.6,274.6 485,274.4 485.4,274.6 486.5,274.7 487.3,274.4 487.7,274.7 488,274.5 488.9,274.5 489.6,274.3 490.2,274.5 490.5,274.4 491,274.7 491.7,274.5 492.1,274.8 493.1,274.3 494.9,274.5 495.5,274 496.1,274.2 496.4,274.6 496.6,274.7 497.5,274.4 499.6,274.6 500,274.2 500.4,274.2 500.8,274.5 501.5,274.6 501.6,274.5 501.8,274.7 502.7,274.3 503.3,274.7 504.3,274.1 505.3,274.7 505.7,274.5 506,274.6 507.8,274.1 509.6,274.6 510.1,274.3 510.9,274.5 511.5,274.2 511.9,274.6 512.4,274.4 513.5,274.7 514.5,274.4 515.5,274.6 516.4,274.1 517.9,274.7 518,274.5 518.3,274.5 518.4,274.7 518.7,274.5 519.1,274.9 519.7,274.7 520.1,274.9 520.7,274.8 521,274.5 521.3,274.8 521.6,274.6 521.8,274.7 522.1,274.4 522.5,274.6 523,274.4 523.8,274.7 524.5,274.3 525.3,274.8 526.6,275 527.2,274.4 528.1,274.5 528.6,274.1 528.8,274.4 529.3,274.4 529.5,274.6 529.8,274.4 530.1,274.6 530.7,274.7 531.5,274.3 532,274.5 532.6,274.2 533.6,274.6 534.9,274.8 535.7,274.5 536.2,274.5 536.4,274.7 536.6,274.5 537.2,274.4 537.5,274.5 537.7,274.3 538.3,274.3 538.6,274.6 538.8,274.3 539.2,274.3 539.9,274.8 540.5,274.2 541.8,274.7 542.6,274.3 543.2,274.6 543.8,274.7 543.9,274.6 544.2,274.8 546.3,274.3 547.2,274.9 548.1,274.3 548.5,274.3 548.8,274.5 549.5,274.5 549.8,274.8 550.5,274.2 550.9,274.2 551.1,274.4 551.4,274.4 551.8,274.7 552.2,274.7 552.8,274.4 553.3,274.6 554.1,274.4 554.2,274.7 554.6,274.7 555.5,274.4 555.6,274.5 556.4,274.6 557.6,272.8 558,273.1 558.8,276.2 559.1,276.1 559.7,275.1 560.5,274.5 561.4,274.5 561.7,274.3 562.8,274.7 563.2,274.3 563.7,274.2 564,274.5 564.3,274.4 565.3,274.6 565.6,274.5 566,274.7 567.4,274.3 568.2,274.4 568.7,273.6 569.5,273.5 569.9,273.1 570.6,273.3 573.3,275.9 573.9,275.7 574.1,275.4 574.5,275.5 574.7,275.3 574.9,275.5 575.4,274.9 575.8,274.9 576.6,274.3 577,274.6 577.5,274.7 577.6,274.6 577.7,274.8 577.9,274.6 578.3,274.8 579,274.2 580.1,274.4 580.7,274.4 580.9,274.1 581.2,274.3 582.2,273.2 583,273.2 583.3,273 584.6,274 585.5,275.3 586.9,276.1 587.1,275.8 587.8,275.8 588.6,274.8 588.8,274.9 589.2,274.6 590.2,274.3 590.6,274.5 591.2,274.1 592,274.8 592.4,274.7 592.5,274.5 593.2,274.8 593.9,274.3 594.5,274.3 594.7,274.4 595.1,274.3 595.5,274.7 595.7,274.5 595.9,274.6 596.5,274 597.1,273.1 597.6,273.6 598.1,275.8 598.4,276.2 599.1,275.1 599.8,274.5 600.9,274.2 601.4,274.5 601.7,274.2 602.6,274.6 603,274.3 603.3,274.6 603.5,274.4 603.8,274.5 604,274.2 604.3,274.4 604.6,274.2 604.8,274.4 605,274.3 606,274.7 606.7,274.7 607,274.4 607.5,274.6 607.6,274.4 608,274.5 608.2,274.3 609.4,274.6 610.2,274.5 610.8,274.7 611.7,274.5 612.4,274.5 612.6,274.7 613.3,274.8 613.5,274.6 613.7,274.7 614.3,274.5 614.4,274.6 615.3,274.3 615.8,274.5 616.2,274.5 616.6,274.3 617.8,274.5 619,274.4 619.4,274.2 619.8,274.6 620.2,274.7 621.1,274.4 621.9,274.6 622.9,274.7 623.3,274.2 623.8,274.2 624.5,274.4 624.6,274.3 625.1,274.2 625.5,274.5 625.8,274.4 626.6,274.7 627.4,274.2 628.3,274.7 630.9,274.2 632.2,274.7 633.3,274.2 633.7,274.5 634.2,274.5 634.3,274.3 634.7,274.6 635.6,274.3 636.2,274.7 637.2,274.1 638.1,274.5 638.9,274.3 639.7,274.6 639.9,274.5 640.8,274.7 641.4,274.4 641.9,274.8 642.7,274.3 643.2,274.3 643.5,274.5 644.1,274.5 644.5,274.3 644.8,274.5 645.2,274.3 646.2,274.6 646.5,274.5 647.2,274.7 647.9,274.4 648.2,274.7 648.7,274.7 649.1,274.2 649.9,274.5 650.2,274.3 650.6,274.5 651.2,274.4 651.4,274.6 651.5,274.4 652.6,274.6 652.7,274.5 653.5,274.6 653.7,274.4 654.6,274.7 655.6,274.4 655.8,274.6 656.3,274.3 656.5,274.4 656.6,274.2 657.7,274.9 658.1,274.9 659,274.3 659.5,274.3 659.9,274.6 660.7,274.4 661.3,274.7 663,274.4 663.8,274.7 664.1,274.4 664.7,274.3 665,274.7 665.5,274.8 666.9,274.2 668.7,274.8 670.1,274.4 670.7,274.6 671,274.4 671.7,274.6 672,274.4 672.6,274.6" fill="none" stroke="#1818c0" stroke-width="1.3" stroke-linejoin="round" stroke-linecap="round"/>
<polyline points="483.8,289.2 484.1,289.3 484.4,289.1 485.2,289.4 485.8,289.3 486.6,289.5 487.8,289.3 488.6,289.4 488.9,289.1 489.5,288.8 490,289.2 491.3,289.5 492.1,289.3 493,289.5 494,289 494.3,289.3 495.1,289.2 495.6,289.4 496.4,288.9 497.1,289.1 497.5,288.9 497.8,289.2 498,289.1 498.4,289.4 498.7,289.2 499.3,289.4 499.6,289.4 499.8,289.1 500.3,289.3 500.9,288.9 501.7,289.2 501.9,289 502.8,289.4 503.6,288.9 504.1,289.1 504.9,288.9 505,289.2 505.5,289.5 506.5,289.1 507.3,289.4 508.2,289 508.5,289 508.7,289.2 509.6,289.1 511.1,289.4 512.2,289.3 512.6,289 513.3,289.4 513.5,289.7 514.4,288.9 515,289.4 515.7,288.9 516.5,289.5 516.8,289.6 517.9,289.2 518.3,289.5 518.5,289.3 518.8,289.4 519,289.1 519.8,289.2 520.6,288.9 521.1,289.2 522,289.1 522.2,288.9 522.5,289.1 523.2,289 524,289.3 524.5,289.1 525.1,289.1 525.3,288.9 525.9,289 526.2,289.3 526.8,289.3 527.7,288.9 528,289.1 528.3,289 529.1,289.2 530.5,289 531,289.4 531.9,289.2 532.2,289.5 532.6,289.3 532.8,289.6 533,289.4 533.3,289.6 534.1,289 535,289.5 535.3,289.1 535.5,289.2 535.9,289 536.2,289.3 536.4,289.2 536.7,289.6 537.5,289.2 538.6,289.5 539.6,289.1 540.3,289.1 540.9,289.4 541.7,288.9 541.9,289.1 542,289 542.3,289.2 543.1,288.8 543.3,289.1 543.6,289.1 543.8,288.9 543.9,289.1 544.1,288.9 544.3,289.1 544.5,288.9 544.7,289.2 544.8,289 545.3,289.2 545.8,289 546.8,289.4 547.5,289.2 548.7,289.5 550.1,289.1 550.9,289.3 551.7,289 551.9,289.2 552.1,289 553,289.2 553.3,289 553.8,289 554.2,289.3 555.2,289.1 555.4,289.2 555.7,289.1 556,289.2 556.2,289 557.1,289.2 557.8,288.1 558.8,290 559,290.1 559.9,289 560.1,289.1 560.5,288.9 561,288.9 561.3,289.2 562.2,289.1 562.3,289.3 563,289.5 563.2,289.3 563.9,289.1 564.6,289.5 565.6,289.6 566.1,289.1 566.4,289 566.8,289.4 567.6,288.9 568.3,289 568.7,288.5 569.3,288.3 570.2,288.7 570.6,288.5 573.4,289.9 573.7,289.7 574.4,289.8 575.7,289.2 576.5,289.4 577,289.1 577.7,289.3 578.4,289.1 579,289.3 579.9,288.8 582.1,288.6 582.3,288.4 582.8,288.3 584.7,288.8 585.6,289.7 586.4,290.1 587.2,289.9 587.9,290 589,289.3 589.2,289 590.2,289.3 591.5,289 592.5,289.2 592.8,289 593.5,289.4 594.2,289.1 594.7,289.4 595.1,289.3 595.4,288.9 595.7,289 596.7,288.4 597.3,288.3 597.6,288.7 598,289.9 598.5,290.2 598.9,289.5 599.1,289.6 600.1,289.2 601.3,289 602.2,289.4 603.1,289.1 604.4,289.1 605.3,289.5 605.9,289 606.7,289.4 607,289.1 607.2,289.3 607.6,289 607.8,289.2 608.6,288.9 609.4,288.9 610.5,289.3 611.2,289 611.8,289.2 612.6,288.9 613.1,289.4 613.8,289.3 614,289 614.7,289.6 615.1,289.3 615.8,289.5 616.4,289 617.3,289.3 619.1,288.9 619.5,289.2 620.2,289 620.7,289.3 621.5,289.2 621.8,289.4 622,289.2 622.3,289.4 623.7,289.1 623.9,289.3 624,289.2 624.6,289.5 625.7,288.9 626.3,289.2 626.6,289.1 626.7,289.2 627.2,289.2 627.4,289.4 627.8,289.1 628.3,289.3 628.5,289 628.7,289.3 629.2,288.9 629.4,289.2 629.8,289.2 630,289.3 632.5,289.3 633.1,289.1 634.1,289.5 634.9,289.1 635.3,289.3 637,289 637.5,289.2 638.5,289.1 638.6,289.2 639.5,288.7 640.3,289.3 640.8,289.1 641,289.3 641.9,288.9 642.7,289.2 643.3,289.1 644,289.3 645,289 646.2,289.3 647,289.1 647.7,289.4 648.9,288.9 649.7,289.3 650.3,288.9 650.8,289.2 652.3,289 652.9,289.3 653.4,289 654.8,289.6 655.6,288.9 656.6,289.3 657.2,288.8 658.1,289.3 658.6,289.2 658.7,289.3 659,289.1 660,289.3 660.6,289 661.4,289.2 661.6,289 662.5,289.5 663,289.5 663.4,289.2 664.2,289.2 664.4,289.4 664.8,289.3 665,289.6 665.2,289.3 665.3,289.4 666.3,289.1 666.7,289.3 666.7,289.2 667.1,289.4 667.9,289.3 668.3,289 668.6,289 669.1,289.4 669.6,289.1 670,289 670.1,289.3 670.3,289.1 670.7,289.3 670.9,289.1 671.4,289.3 672.2,289 672.6,289.1" fill="none" stroke="#7a2ae0" stroke-width="1.3" stroke-linejoin="round" stroke-linecap="round"/>
<polyline points="483.8,303 485.6,302.9 486.1,303.1 486.6,302.9 488,302.9 488.7,303.1 489.6,302.9 490.4,303.1 492.2,302.9 493.2,303 494,303.3 494.8,303 496,303 496.6,302.9 497.7,303 498.2,302.9 498.8,303.1 500,302.8 500.3,302.9 501.2,302.8 502.9,303.1 503.7,302.8 504.9,303.2 506.9,302.9 507.8,303.1 508.2,302.9 509.9,303.1 510.6,302.9 511.4,303.1 512.1,302.9 513,303.1 514,303 514.7,303.2 516.6,303 517.4,303.1 518,302.9 519,303.1 520,302.9 520.8,303.1 522.1,302.9 522.9,303.1 524.7,302.9 525.4,303.2 526.8,302.8 528.4,302.9 529.2,303.1 529.7,302.9 530.5,303.1 531.5,303 532.3,303.2 533.2,302.9 533.9,303.2 536.3,302.8 538.2,303.1 546,302.9 547.1,303.1 549.8,302.9 551.9,303.1 552.9,302.9 554.1,303.1 555.8,302.8 557.1,302.8 557.8,302.4 558.8,303.6 560.3,302.9 562.7,303.3 563.8,302.9 564.5,303.1 565.9,303 570,302.5 572,303 572.9,303.6 577.4,302.9 578.4,303 579,302.8 580.3,303 581.9,302.4 582.7,302.4 584.1,302.7 585.6,303.5 586.5,303.4 587.4,303.6 589.1,303 592.7,303.1 595.1,302.8 595.7,303 597,302.5 598.4,303.6 599.8,303 600.4,303.1 601,302.9 601.9,303.1 604.3,302.9 607.9,303.1 609.4,302.8 610.3,303.1 611.3,302.8 612.8,303 614.5,302.7 615.4,303.1 616.9,302.9 617.6,303.2 619.9,302.9 621.5,303.1 622.5,302.8 624.2,303.1 625,302.9 626,303.1 627.3,302.8 627.9,302.8 628.1,303 628.8,302.9 629.9,303.1 631.2,302.8 633,303.1 633.8,302.9 634.9,303.1 637,302.9 637.9,303.1 639.8,302.9 640.9,303.1 642.7,303 643,303.2 643.9,303 645.9,303.1 646.7,302.8 647.5,303.1 648.3,302.8 648.8,303 649.7,302.8 651.8,303.1 652.8,302.9 654.7,303.1 655.5,302.8 657.2,303.1 658.5,303 660,303.2 661.2,302.9 663.3,303.1 664.7,302.9 665.6,303 666,302.9 668.3,303 669.1,302.9 669.5,303.1 670.1,302.9 671.4,303.1 672.6,303" fill="none" stroke="#c8a0f0" stroke-width="1.3" stroke-linejoin="round" stroke-linecap="round"/>
<polyline points="483.8,317.3 484.8,317.3 485.9,317.5 488.8,317.2 490.1,317.4 492.4,317.2 493.1,317.4 493.9,317.2 495.5,317.5 496.4,317.3 499.6,317.4 502.8,317.1 503.6,317.4 505.9,317.3 507.5,317.5 508.2,317.3 510,317.4 511.7,317.2 513.6,317.4 514.5,317.2 515.3,317.4 515.9,317.2 516.6,317.3 517.7,317.2 518.5,317.4 518.9,317.3 521.7,317.4 522.9,317.2 524.5,317.5 526.1,317.3 527.5,317.5 529.3,317.3 530,317.5 531.8,317.4 532.2,317.3 534.3,317.4 537.1,317.2 537.9,317.5 538.4,317.3 539.6,317.2 540.8,317.5 542.6,317.1 544.1,317.4 545.6,317.4 546.5,317.1 547.4,317.4 548.8,317.4 549.8,317.1 551.6,317.4 552.4,317.3 552.8,317.5 554.3,317.1 554.8,317.3 556.6,317.3 557.4,316.9 558.1,317.1 558.9,317.9 559.8,317.3 561.3,317.4 562,317.3 563.1,317.5 564.8,317.2 565.6,317.3 566.6,317.1 568.3,317.2 569.2,316.9 571,317 573.1,317.7 574.1,317.4 575.9,317.5 576.9,317.2 577.7,317.3 578.4,317.2 580.2,317.5 581.8,317 583.4,316.9 584,317.2 584.8,317.2 585.6,317.7 586,317.7 586.8,317.7 587.5,317.4 588.5,317.5 589.3,317.3 591,317.5 591.9,317.1 592.5,317.3 595.6,317.4 596.9,316.9 598.5,317.8 600,317.2 600.7,317.3 601.2,317.2 602,317.4 604.2,317.1 607.8,317.4 609.2,317.1 611,317.5 611.8,317.2 613.8,317.4 614.3,317.2 614.7,317.3 615.6,317.1 616.2,317.5 616.9,317.2 617.8,317.4 618.7,317.2 619.8,317.5 620.6,317.2 623,317.4 624,317.2 625,317.4 626.1,317.1 627.2,317.4 628.9,317.2 630.2,317.4 631.3,317.2 632.7,317.4 633.7,317.1 634.6,317.4 635.9,317.3 636.7,317.5 637.2,317.3 638.8,317.4 639.6,317.2 640.4,317.4 641.9,317.3 643.4,317.5 645.2,317.1 646.8,317.4 648.7,317.2 649.6,317.3 650.1,317.2 651,317.3 651.6,317.2 653.2,317.5 654.4,317.2 657.4,317.4 658.7,317.1 660,317.3 660.9,317.2 661.7,317.4 662.6,317.2 663.7,317.4 664.6,317.1 666.5,317.4 668.7,317.2 669.7,317.5 671.1,317.2 672.6,317.4" fill="none" stroke="#a050e0" stroke-width="1.3" stroke-linejoin="round" stroke-linecap="round"/>
<polyline points="483.8,330.8 484.8,330.4 486.4,330.7 487.2,330.6 487.7,330.8 489.3,330.4 489.7,330.6 491.7,330.5 492.3,330.7 496.8,330.5 497.4,330.8 498.8,330.5 500.6,330.7 501.6,330.4 503.3,330.7 503.8,330.5 504.8,330.7 505.1,330.5 505.7,330.7 506.6,330.5 507.7,330.7 510.9,330.5 513.5,330.8 514.6,330.6 514.9,330.7 516.6,330.5 518.5,330.7 519.8,330.4 520.5,330.6 521.7,330.7 524.7,330.5 525.4,330.6 529,330.5 531.1,330.7 535.2,330.5 535.8,330.6 539.4,330.6 540.3,330.8 541.5,330.5 543.6,330.7 544.9,330.5 546.4,330.7 547.2,330.5 548.8,330.5 549.8,330.7 550.8,330.5 553.8,330.7 557.8,330.3 559.1,331.2 560.2,330.5 561.3,330.8 563.2,330.5 566.5,330.7 568,330.3 568.9,330.5 569.6,330.3 572,330.5 573.6,331 575.7,330.9 576.1,330.7 576.9,330.8 578.6,330.5 580.5,330.6 582,330.4 583.9,330.4 584.9,330.5 586.3,331 589.7,330.5 590.5,330.7 591.3,330.5 595.9,330.7 597,330.3 598.4,331 600,330.6 601,330.7 603.9,330.5 604.5,330.6 604.8,330.5 605.7,330.7 606,330.6 608.1,330.7 608.5,330.5 609.4,330.6 609.6,330.5 610.5,330.8 610.9,330.6 612.5,330.5 613.1,330.7 614.3,330.4 615.1,330.7 617,330.5 618.5,330.8 619.3,330.5 619.9,330.7 621.6,330.6 624.6,330.8 625.1,330.6 626,330.8 627.6,330.3 628,330.6 629,330.5 630.6,330.7 631.3,330.5 633,330.6 634.8,330.4 635.7,330.7 639.1,330.4 640,330.8 642.5,330.5 644,330.7 644.8,330.4 645.3,330.6 646,330.5 646.7,330.8 647.6,330.6 648.2,330.8 648.9,330.5 651.2,330.7 652,330.5 652.9,330.8 655.8,330.5 660.2,330.6 660.5,330.5 661.9,330.7 663.9,330.5 664.8,330.8 667.6,330.4 669.1,330.8 670,330.6 670.6,330.8 671.9,330.5 672.6,330.5" fill="none" stroke="#e070e8" stroke-width="1.3" stroke-linejoin="round" stroke-linecap="round"/>
<polyline points="483.8,344.3 484.4,344.4 485.2,344.1 486.7,344.4 487.5,344.3 488.1,344.4 490.1,344.2 490.8,344.4 492.8,344.1 495,344.4 496.3,344.2 497.1,344.4 499.2,344.2 500.5,344.5 502.2,344.2 502.9,344.3 504.6,344.2 505.4,344.5 506.9,344.2 507.8,344.5 508.8,344 510.1,344.4 511.2,344.5 511.9,344.2 513,344.5 513.3,344.4 514,344 515.8,344.4 516.7,344.2 517.2,344.4 518.1,344.3 519,344.4 520.5,344.1 521.4,344.4 523,344.2 523.6,344.4 524.3,344.3 525.1,344.5 527.2,344.2 527.8,344.4 528.5,344.2 530.3,344.4 530.8,344.2 531.4,344.4 534.6,344.1 535.4,344.4 535.8,344.2 536.7,344.3 537.4,344.1 538.9,344.4 540.5,344.4 541.6,344.1 542.4,344.5 543.4,344.3 544.8,344.4 545.5,344.2 546.4,344.4 547.3,344.2 549.4,344.3 550.5,344.1 552.5,344.4 554.7,344.4 555.5,344.1 556.4,344.4 557.8,344.3 559.3,344.5 560.2,344.3 560.9,344.4 561.9,344.3 563,344.4 564.6,344.1 565.5,344.3 568.3,344.2 569,344.3 570.3,344 571.1,344.5 571.5,344.5 572,344.4 572.8,344.5 573.7,344.2 575.3,344.4 577.1,344.1 577.7,344.4 579,344.2 579.8,344.5 580.9,344.3 581.8,344.4 582.2,344.2 582.4,344.4 583.3,344.1 584.1,344.4 585.2,344.2 586.2,344.4 587.1,344.2 587.7,344.5 588.6,344.2 590.3,344.4 590.8,344.1 591.7,344.3 592,344.2 592.7,344.4 593.2,344.2 595.5,344.5 597.3,344.2 598.9,344.4 600.7,344.2 602.1,344.5 602.9,344 605.5,344.4 607.6,344.2 608.6,344.3 609.2,344.1 610,344.4 611.9,344.2 613.4,344.4 614.3,344.2 615.8,344.4 616.7,344.2 617.7,344.4 619.1,344.1 619.6,344.3 621.2,344.2 622,344.4 622.9,344.2 623.7,344.3 624.3,344.1 625.2,344.4 627,344.5 627.7,344.3 629.6,344.3 629.8,344.1 630.8,344.4 632.6,344.3 633.7,344.4 634.7,344.2 635.6,344.4 636.4,344.2 637,344.4 637.7,344.2 639.6,344.4 642.4,344.1 643.1,344.5 643.8,344.3 644.6,344.4 645.3,344.2 646.2,344.4 650.2,344.2 651.1,344.4 652.2,344.3 652.9,344.2 653.7,344.4 654.6,344.2 655.3,344.3 656.2,344.2 656.6,344.4 658.3,344.2 659.2,344.5 660.1,344.1 661.1,344.4 662.3,344.1 663.1,344.3 663.9,344.2 664.4,344.4 665.8,344.4 667.8,344.2 669.3,344.3 670.7,344.4 671.2,344.1 671.8,344.4 672.6,344.3" fill="none" stroke="#c040e0" stroke-width="1.3" stroke-linejoin="round" stroke-linecap="round"/>
</g>
<text x="671.4" y="211.6" font-size="4.9" text-anchor="end" font-weight="bold" fill="#000">Control</text>
<text x="671.4" y="225.6" font-size="4.9" text-anchor="end" font-weight="bold" fill="#000">Zn<tspan dy="1.18" font-size="3.53">4</tspan><tspan dy="-1.18">Al</tspan><tspan dy="1.18" font-size="3.53">1</tspan><tspan dy="-1.18">-LDH</tspan></text>
<text x="671.4" y="240.8" font-size="4.9" text-anchor="end" font-weight="bold" fill="#000">CeO<tspan dy="1.18" font-size="3.53">2</tspan></text>
<text x="671.4" y="255.6" font-size="4.9" text-anchor="end" font-weight="bold" fill="#000">Zn<tspan dy="1.18" font-size="3.53">3</tspan><tspan dy="-1.18">Cu</tspan><tspan dy="1.18" font-size="3.53">1</tspan><tspan dy="-1.18">Al</tspan><tspan dy="1.18" font-size="3.53">1</tspan><tspan dy="-1.18">-LDH</tspan></text>
<text x="671.4" y="270.6" font-size="4.9" text-anchor="end" font-weight="bold" fill="#000">Zn<tspan dy="1.18" font-size="3.53">2</tspan><tspan dy="-1.18">Cu</tspan><tspan dy="1.18" font-size="3.53">2</tspan><tspan dy="-1.18">Al</tspan><tspan dy="1.18" font-size="3.53">1</tspan><tspan dy="-1.18">-LDH</tspan></text>
<text x="671.4" y="285.6" font-size="4.9" text-anchor="end" font-weight="bold" fill="#000">Zn<tspan dy="1.18" font-size="3.53">1</tspan><tspan dy="-1.18">Cu</tspan><tspan dy="1.18" font-size="3.53">3</tspan><tspan dy="-1.18">Al</tspan><tspan dy="1.18" font-size="3.53">1</tspan><tspan dy="-1.18">-LDH</tspan></text>
<text x="671.4" y="299.6" font-size="4.9" text-anchor="end" font-weight="bold" fill="#000">a-Zn<tspan dy="1.18" font-size="3.53">3</tspan><tspan dy="-1.18">Cu</tspan><tspan dy="1.18" font-size="3.53">1</tspan><tspan dy="-1.18">Al</tspan><tspan dy="1.18" font-size="3.53">1</tspan><tspan dy="-1.18">-LDH</tspan></text>
<text x="671.4" y="313.8" font-size="4.9" text-anchor="end" font-weight="bold" fill="#000">a-Zn<tspan dy="1.18" font-size="3.53">2</tspan><tspan dy="-1.18">Cu</tspan><tspan dy="1.18" font-size="3.53">2</tspan><tspan dy="-1.18">Al</tspan><tspan dy="1.18" font-size="3.53">1</tspan><tspan dy="-1.18">-LDH</tspan></text>
<text x="671.4" y="327.6" font-size="4.9" text-anchor="end" font-weight="bold" fill="#000">a-Zn<tspan dy="1.18" font-size="3.53">1</tspan><tspan dy="-1.18">Cu</tspan><tspan dy="1.18" font-size="3.53">3</tspan><tspan dy="-1.18">Al</tspan><tspan dy="1.18" font-size="3.53">1</tspan><tspan dy="-1.18">-LDH</tspan></text>
<text x="671.4" y="341.8" font-size="4.9" text-anchor="end" font-weight="bold" fill="#000">DMPO</text>
<rect x="483.8" y="203.3" width="188.8" height="152.6" fill="none" stroke="#111" stroke-width="1.1"/>
<line x1="483.8" y1="355.9" x2="483.8" y2="358.9" stroke="#111" stroke-width="0.9"/>
<text x="483.8" y="366.1" font-size="8.1" text-anchor="middle" font-weight="normal" fill="#000">3400</text>
<line x1="531" y1="355.9" x2="531" y2="358.9" stroke="#111" stroke-width="0.9"/>
<text x="531" y="366.1" font-size="8.1" text-anchor="middle" font-weight="normal" fill="#000">3450</text>
<line x1="578.2" y1="355.9" x2="578.2" y2="358.9" stroke="#111" stroke-width="0.9"/>
<text x="578.2" y="366.1" font-size="8.1" text-anchor="middle" font-weight="normal" fill="#000">3500</text>
<line x1="625.4" y1="355.9" x2="625.4" y2="358.9" stroke="#111" stroke-width="0.9"/>
<text x="625.4" y="366.1" font-size="8.1" text-anchor="middle" font-weight="normal" fill="#000">3550</text>
<line x1="672.6" y1="355.9" x2="672.6" y2="358.9" stroke="#111" stroke-width="0.9"/>
<text x="672.6" y="366.1" font-size="8.1" text-anchor="middle" font-weight="normal" fill="#000">3600</text>
<line x1="507.4" y1="355.9" x2="507.4" y2="357.5" stroke="#111" stroke-width="0.9"/>
<line x1="554.6" y1="355.9" x2="554.6" y2="357.5" stroke="#111" stroke-width="0.9"/>
<line x1="601.8" y1="355.9" x2="601.8" y2="357.5" stroke="#111" stroke-width="0.9"/>
<line x1="649" y1="355.9" x2="649" y2="357.5" stroke="#111" stroke-width="0.9"/>
<text x="461.2" y="199.5" font-size="21" text-anchor="start" font-weight="bold" fill="#000">f</text>
<text x="477" y="279.7" font-size="8.6" text-anchor="middle" font-weight="bold" fill="#000" transform="rotate(-90 477 279.7)">Intensity (a.u.)</text>
<text x="574.9" y="375.7" font-size="8.6" text-anchor="middle" font-weight="bold" fill="#000">Magnetic field (G)</text>
<rect x="37.45" y="487.94" width="18.8" height="52.16" fill="url(#g_red)"/>
<line x1="46.85" y1="482.96" x2="46.85" y2="492.91" stroke="#2a2a2a" stroke-width="0.85"/>
<line x1="45.05" y1="482.96" x2="48.65" y2="482.96" stroke="#2a2a2a" stroke-width="0.85"/>
<line x1="45.05" y1="492.91" x2="48.65" y2="492.91" stroke="#2a2a2a" stroke-width="0.85"/>
<text x="46.85" y="516.12" font-size="6.2" text-anchor="middle" font-weight="bold" fill="#1a1a1a">43.62</text>
<rect x="61.1" y="480.16" width="18.8" height="59.94" fill="url(#g_orange)"/>
<line x1="70.5" y1="475.18" x2="70.5" y2="485.14" stroke="#2a2a2a" stroke-width="0.85"/>
<line x1="68.7" y1="475.18" x2="72.3" y2="475.18" stroke="#2a2a2a" stroke-width="0.85"/>
<line x1="68.7" y1="485.14" x2="72.3" y2="485.14" stroke="#2a2a2a" stroke-width="0.85"/>
<text x="70.5" y="512.23" font-size="6.2" text-anchor="middle" font-weight="bold" fill="#1a1a1a">45.65</text>
<rect x="84.75" y="466.1" width="18.8" height="74" fill="url(#g_yellow)"/>
<line x1="94.15" y1="461.13" x2="94.15" y2="471.08" stroke="#2a2a2a" stroke-width="0.85"/>
<line x1="92.35" y1="461.13" x2="95.95" y2="461.13" stroke="#2a2a2a" stroke-width="0.85"/>
<line x1="92.35" y1="471.08" x2="95.95" y2="471.08" stroke="#2a2a2a" stroke-width="0.85"/>
<text x="94.15" y="505.2" font-size="6.2" text-anchor="middle" font-weight="bold" fill="#1a1a1a">49.32</text>
<rect x="108.4" y="454.73" width="18.8" height="85.37" fill="url(#g_green)"/>
<line x1="117.8" y1="449.56" x2="117.8" y2="459.9" stroke="#2a2a2a" stroke-width="0.85"/>
<line x1="116" y1="449.56" x2="119.6" y2="449.56" stroke="#2a2a2a" stroke-width="0.85"/>
<line x1="116" y1="459.9" x2="119.6" y2="459.9" stroke="#2a2a2a" stroke-width="0.85"/>
<text x="117.8" y="499.51" font-size="6.2" text-anchor="middle" font-weight="bold" fill="#1a1a1a">52.29</text>
<rect x="132.05" y="446.49" width="18.8" height="93.61" fill="url(#g_cyan)"/>
<line x1="141.45" y1="441.13" x2="141.45" y2="451.86" stroke="#2a2a2a" stroke-width="0.85"/>
<line x1="139.65" y1="441.13" x2="143.25" y2="441.13" stroke="#2a2a2a" stroke-width="0.85"/>
<line x1="139.65" y1="451.86" x2="143.25" y2="451.86" stroke="#2a2a2a" stroke-width="0.85"/>
<text x="141.45" y="495.4" font-size="6.2" text-anchor="middle" font-weight="bold" fill="#1a1a1a">54.44</text>
<rect x="155.7" y="433.4" width="18.8" height="106.7" fill="url(#g_blue)"/>
<line x1="165.1" y1="428.23" x2="165.1" y2="438.57" stroke="#2a2a2a" stroke-width="0.85"/>
<line x1="163.3" y1="428.23" x2="166.9" y2="428.23" stroke="#2a2a2a" stroke-width="0.85"/>
<line x1="163.3" y1="438.57" x2="166.9" y2="438.57" stroke="#2a2a2a" stroke-width="0.85"/>
<text x="165.1" y="488.85" font-size="6.2" text-anchor="middle" font-weight="bold" fill="#1a1a1a">57.86</text>
<rect x="179.35" y="427.04" width="18.8" height="113.06" fill="url(#g_purple)"/>
<line x1="188.75" y1="422.06" x2="188.75" y2="432.02" stroke="#2a2a2a" stroke-width="0.85"/>
<line x1="186.95" y1="422.06" x2="190.55" y2="422.06" stroke="#2a2a2a" stroke-width="0.85"/>
<line x1="186.95" y1="432.02" x2="190.55" y2="432.02" stroke="#2a2a2a" stroke-width="0.85"/>
<text x="188.75" y="485.67" font-size="6.2" text-anchor="middle" font-weight="bold" fill="#1a1a1a">59.52</text>
<rect x="203" y="404.48" width="18.8" height="135.62" fill="url(#g_magenta)"/>
<line x1="212.4" y1="399.5" x2="212.4" y2="409.46" stroke="#2a2a2a" stroke-width="0.85"/>
<line x1="210.6" y1="399.5" x2="214.2" y2="399.5" stroke="#2a2a2a" stroke-width="0.85"/>
<line x1="210.6" y1="409.46" x2="214.2" y2="409.46" stroke="#2a2a2a" stroke-width="0.85"/>
<text x="212.4" y="474.39" font-size="6.2" text-anchor="middle" font-weight="bold" fill="#1a1a1a">65.41</text>
<line x1="34.45" y1="386.9" x2="225.25" y2="386.9" stroke="#555" stroke-width="1.6"/>
<line x1="35" y1="386.35" x2="35" y2="540.65" stroke="#555" stroke-width="1.8"/>
<line x1="224.7" y1="386.35" x2="224.7" y2="540.65" stroke="#111" stroke-width="1.15"/>
<line x1="34.45" y1="540.1" x2="225.25" y2="540.1" stroke="#111" stroke-width="1.15"/>
<line x1="32" y1="540.1" x2="35" y2="540.1" stroke="#555" stroke-width="1"/>
<text x="30.8" y="542.98" font-size="8.1" text-anchor="end" font-weight="bold" fill="#000">30</text>
<line x1="32" y1="501.8" x2="35" y2="501.8" stroke="#555" stroke-width="1"/>
<text x="30.8" y="504.68" font-size="8.1" text-anchor="end" font-weight="bold" fill="#000">40</text>
<line x1="32" y1="463.5" x2="35" y2="463.5" stroke="#555" stroke-width="1"/>
<text x="30.8" y="466.38" font-size="8.1" text-anchor="end" font-weight="bold" fill="#000">50</text>
<line x1="32" y1="425.2" x2="35" y2="425.2" stroke="#555" stroke-width="1"/>
<text x="30.8" y="428.08" font-size="8.1" text-anchor="end" font-weight="bold" fill="#000">60</text>
<line x1="32" y1="386.9" x2="35" y2="386.9" stroke="#555" stroke-width="1"/>
<text x="30.8" y="389.78" font-size="8.1" text-anchor="end" font-weight="bold" fill="#000">70</text>
<line x1="33.4" y1="520.95" x2="35" y2="520.95" stroke="#555" stroke-width="1"/>
<line x1="33.4" y1="482.65" x2="35" y2="482.65" stroke="#555" stroke-width="1"/>
<line x1="33.4" y1="444.35" x2="35" y2="444.35" stroke="#555" stroke-width="1"/>
<line x1="33.4" y1="406.05" x2="35" y2="406.05" stroke="#555" stroke-width="1"/>
<text x="49.1" y="546.7" font-size="5.3" text-anchor="end" font-weight="bold" fill="#000" transform="rotate(-17 49.1 546.7)">Zn<tspan dy="1.27" font-size="3.82">4</tspan><tspan dy="-1.27">Al</tspan><tspan dy="1.27" font-size="3.82">1</tspan><tspan dy="-1.27">-LDH</tspan></text>
<text x="70.8" y="546.7" font-size="5.3" text-anchor="end" font-weight="bold" fill="#000" transform="rotate(-17 70.8 546.7)">CeO<tspan dy="1.27" font-size="3.82">2</tspan></text>
<text x="93.3" y="546.7" font-size="5.3" text-anchor="end" font-weight="bold" fill="#000" transform="rotate(-17 93.3 546.7)">Zn<tspan dy="1.27" font-size="3.82">3</tspan><tspan dy="-1.27">Cu</tspan><tspan dy="1.27" font-size="3.82">1</tspan><tspan dy="-1.27">Al</tspan><tspan dy="1.27" font-size="3.82">1</tspan><tspan dy="-1.27">-LDH</tspan></text>
<text x="117.4" y="546.7" font-size="5.3" text-anchor="end" font-weight="bold" fill="#000" transform="rotate(-17 117.4 546.7)">Zn<tspan dy="1.27" font-size="3.82">2</tspan><tspan dy="-1.27">Cu</tspan><tspan dy="1.27" font-size="3.82">2</tspan><tspan dy="-1.27">Al</tspan><tspan dy="1.27" font-size="3.82">1</tspan><tspan dy="-1.27">-LDH</tspan></text>
<text x="141.3" y="546.7" font-size="5.3" text-anchor="end" font-weight="bold" fill="#000" transform="rotate(-17 141.3 546.7)">Zn<tspan dy="1.27" font-size="3.82">1</tspan><tspan dy="-1.27">Cu</tspan><tspan dy="1.27" font-size="3.82">3</tspan><tspan dy="-1.27">Al</tspan><tspan dy="1.27" font-size="3.82">1</tspan><tspan dy="-1.27">-LDH</tspan></text>
<text x="165.4" y="546.7" font-size="5.3" text-anchor="end" font-weight="bold" fill="#000" transform="rotate(-17 165.4 546.7)">a-Zn<tspan dy="1.27" font-size="3.82">3</tspan><tspan dy="-1.27">Cu</tspan><tspan dy="1.27" font-size="3.82">1</tspan><tspan dy="-1.27">Al</tspan><tspan dy="1.27" font-size="3.82">1</tspan><tspan dy="-1.27">-LDH</tspan></text>
<text x="193.4" y="546.7" font-size="5.3" text-anchor="end" font-weight="bold" fill="#000" transform="rotate(-17 193.4 546.7)">a-Zn<tspan dy="1.27" font-size="3.82">2</tspan><tspan dy="-1.27">Cu</tspan><tspan dy="1.27" font-size="3.82">2</tspan><tspan dy="-1.27">Al</tspan><tspan dy="1.27" font-size="3.82">1</tspan><tspan dy="-1.27">-LDH</tspan></text>
<text x="216.8" y="546.7" font-size="5.3" text-anchor="end" font-weight="bold" fill="#000" transform="rotate(-17 216.8 546.7)">a-Zn<tspan dy="1.27" font-size="3.82">1</tspan><tspan dy="-1.27">Cu</tspan><tspan dy="1.27" font-size="3.82">3</tspan><tspan dy="-1.27">Al</tspan><tspan dy="1.27" font-size="3.82">1</tspan><tspan dy="-1.27">-LDH</tspan></text>
<text x="3.6" y="385.1" font-size="21" text-anchor="start" font-weight="bold" fill="#000">g</text>
<text x="20" y="464.4" font-size="8.6" text-anchor="middle" font-weight="bold" fill="#000" transform="rotate(-90 20 464.4)">D %</text>
<rect x="263.2" y="428.93" width="16.3" height="112.27" fill="url(#g_red)"/>
<line x1="271.35" y1="422" x2="271.35" y2="435.86" stroke="#2a2a2a" stroke-width="0.85"/>
<line x1="269.55" y1="422" x2="273.15" y2="422" stroke="#2a2a2a" stroke-width="0.85"/>
<line x1="269.55" y1="435.86" x2="273.15" y2="435.86" stroke="#2a2a2a" stroke-width="0.85"/>
<rect x="284.2" y="430.63" width="16.3" height="110.57" fill="url(#g_orange)"/>
<line x1="292.35" y1="427.09" x2="292.35" y2="434.17" stroke="#2a2a2a" stroke-width="0.85"/>
<line x1="290.55" y1="427.09" x2="294.15" y2="427.09" stroke="#2a2a2a" stroke-width="0.85"/>
<line x1="290.55" y1="434.17" x2="294.15" y2="434.17" stroke="#2a2a2a" stroke-width="0.85"/>
<rect x="305.2" y="434.02" width="16.3" height="107.18" fill="url(#g_green)"/>
<line x1="313.35" y1="428.32" x2="313.35" y2="439.71" stroke="#2a2a2a" stroke-width="0.85"/>
<line x1="311.55" y1="428.32" x2="315.15" y2="428.32" stroke="#2a2a2a" stroke-width="0.85"/>
<line x1="311.55" y1="439.71" x2="315.15" y2="439.71" stroke="#2a2a2a" stroke-width="0.85"/>
<rect x="326.2" y="440.48" width="16.3" height="100.72" fill="url(#g_cyan)"/>
<line x1="334.35" y1="434.48" x2="334.35" y2="446.49" stroke="#2a2a2a" stroke-width="0.85"/>
<line x1="332.55" y1="434.48" x2="336.15" y2="434.48" stroke="#2a2a2a" stroke-width="0.85"/>
<line x1="332.55" y1="446.49" x2="336.15" y2="446.49" stroke="#2a2a2a" stroke-width="0.85"/>
<rect x="347.2" y="445.72" width="16.3" height="95.48" fill="url(#g_blue)"/>
<line x1="355.35" y1="439.1" x2="355.35" y2="452.34" stroke="#2a2a2a" stroke-width="0.85"/>
<line x1="353.55" y1="439.1" x2="357.15" y2="439.1" stroke="#2a2a2a" stroke-width="0.85"/>
<line x1="353.55" y1="452.34" x2="357.15" y2="452.34" stroke="#2a2a2a" stroke-width="0.85"/>
<rect x="368.2" y="451.88" width="16.3" height="89.32" fill="url(#g_purple)"/>
<line x1="376.35" y1="446.95" x2="376.35" y2="456.81" stroke="#2a2a2a" stroke-width="0.85"/>
<line x1="374.55" y1="446.95" x2="378.15" y2="446.95" stroke="#2a2a2a" stroke-width="0.85"/>
<line x1="374.55" y1="456.81" x2="378.15" y2="456.81" stroke="#2a2a2a" stroke-width="0.85"/>
<rect x="389.2" y="460.81" width="16.3" height="80.39" fill="url(#g_lav1)"/>
<line x1="397.35" y1="456.04" x2="397.35" y2="465.59" stroke="#2a2a2a" stroke-width="0.85"/>
<line x1="395.55" y1="456.04" x2="399.15" y2="456.04" stroke="#2a2a2a" stroke-width="0.85"/>
<line x1="395.55" y1="465.59" x2="399.15" y2="465.59" stroke="#2a2a2a" stroke-width="0.85"/>
<rect x="410.2" y="470.21" width="16.3" height="70.99" fill="url(#g_lav2)"/>
<line x1="418.35" y1="467.74" x2="418.35" y2="472.67" stroke="#2a2a2a" stroke-width="0.85"/>
<line x1="416.55" y1="467.74" x2="420.15" y2="467.74" stroke="#2a2a2a" stroke-width="0.85"/>
<line x1="416.55" y1="472.67" x2="420.15" y2="472.67" stroke="#2a2a2a" stroke-width="0.85"/>
<rect x="431.2" y="478.68" width="16.3" height="62.52" fill="url(#g_magenta)"/>
<line x1="439.35" y1="474.36" x2="439.35" y2="482.99" stroke="#2a2a2a" stroke-width="0.85"/>
<line x1="437.55" y1="474.36" x2="441.15" y2="474.36" stroke="#2a2a2a" stroke-width="0.85"/>
<line x1="437.55" y1="482.99" x2="441.15" y2="482.99" stroke="#2a2a2a" stroke-width="0.85"/>
<rect x="260.4" y="387.4" width="189.6" height="153.7" fill="none" stroke="#111" stroke-width="1.1"/>
<line x1="257.4" y1="541.2" x2="260.4" y2="541.2" stroke="#111" stroke-width="0.9"/>
<text x="256.2" y="544.08" font-size="8.1" text-anchor="end" font-weight="bold" fill="#000">2.0</text>
<line x1="257.4" y1="510.4" x2="260.4" y2="510.4" stroke="#111" stroke-width="0.9"/>
<text x="256.2" y="513.28" font-size="8.1" text-anchor="end" font-weight="bold" fill="#000">2.2</text>
<line x1="257.4" y1="479.6" x2="260.4" y2="479.6" stroke="#111" stroke-width="0.9"/>
<text x="256.2" y="482.48" font-size="8.1" text-anchor="end" font-weight="bold" fill="#000">2.4</text>
<line x1="257.4" y1="448.8" x2="260.4" y2="448.8" stroke="#111" stroke-width="0.9"/>
<text x="256.2" y="451.68" font-size="8.1" text-anchor="end" font-weight="bold" fill="#000">2.6</text>
<line x1="257.4" y1="418" x2="260.4" y2="418" stroke="#111" stroke-width="0.9"/>
<text x="256.2" y="420.88" font-size="8.1" text-anchor="end" font-weight="bold" fill="#000">2.8</text>
<line x1="257.4" y1="387.2" x2="260.4" y2="387.2" stroke="#111" stroke-width="0.9"/>
<text x="256.2" y="390.08" font-size="8.1" text-anchor="end" font-weight="bold" fill="#000">3.0</text>
<line x1="258.8" y1="525.8" x2="260.4" y2="525.8" stroke="#111" stroke-width="0.9"/>
<line x1="258.8" y1="495" x2="260.4" y2="495" stroke="#111" stroke-width="0.9"/>
<line x1="258.8" y1="464.2" x2="260.4" y2="464.2" stroke="#111" stroke-width="0.9"/>
<line x1="258.8" y1="433.4" x2="260.4" y2="433.4" stroke="#111" stroke-width="0.9"/>
<line x1="258.8" y1="402.6" x2="260.4" y2="402.6" stroke="#111" stroke-width="0.9"/>
<text x="270.5" y="547.4" font-size="5.3" text-anchor="end" font-weight="bold" fill="#000" transform="rotate(-17 270.5 547.4)">Control</text>
<text x="291.7" y="547.4" font-size="5.3" text-anchor="end" font-weight="bold" fill="#000" transform="rotate(-17 291.7 547.4)">Zn<tspan dy="1.27" font-size="3.82">4</tspan><tspan dy="-1.27">Al</tspan><tspan dy="1.27" font-size="3.82">1</tspan><tspan dy="-1.27">-LDH</tspan></text>
<text x="312.1" y="547.4" font-size="5.3" text-anchor="end" font-weight="bold" fill="#000" transform="rotate(-17 312.1 547.4)">CeO<tspan dy="1.27" font-size="3.82">2</tspan></text>
<text x="331.1" y="547.4" font-size="5.3" text-anchor="end" font-weight="bold" fill="#000" transform="rotate(-17 331.1 547.4)">Zn<tspan dy="1.27" font-size="3.82">3</tspan><tspan dy="-1.27">Cu</tspan><tspan dy="1.27" font-size="3.82">1</tspan><tspan dy="-1.27">Al</tspan><tspan dy="1.27" font-size="3.82">1</tspan><tspan dy="-1.27">-LDH</tspan></text>
<text x="352.7" y="547.4" font-size="5.3" text-anchor="end" font-weight="bold" fill="#000" transform="rotate(-17 352.7 547.4)">Zn<tspan dy="1.27" font-size="3.82">2</tspan><tspan dy="-1.27">Cu</tspan><tspan dy="1.27" font-size="3.82">2</tspan><tspan dy="-1.27">Al</tspan><tspan dy="1.27" font-size="3.82">1</tspan><tspan dy="-1.27">-LDH</tspan></text>
<text x="375.4" y="547.4" font-size="5.3" text-anchor="end" font-weight="bold" fill="#000" transform="rotate(-17 375.4 547.4)">Zn<tspan dy="1.27" font-size="3.82">1</tspan><tspan dy="-1.27">Cu</tspan><tspan dy="1.27" font-size="3.82">3</tspan><tspan dy="-1.27">Al</tspan><tspan dy="1.27" font-size="3.82">1</tspan><tspan dy="-1.27">-LDH</tspan></text>
<text x="398" y="547.4" font-size="5.3" text-anchor="end" font-weight="bold" fill="#000" transform="rotate(-17 398 547.4)">a-Zn<tspan dy="1.27" font-size="3.82">3</tspan><tspan dy="-1.27">Cu</tspan><tspan dy="1.27" font-size="3.82">1</tspan><tspan dy="-1.27">Al</tspan><tspan dy="1.27" font-size="3.82">1</tspan><tspan dy="-1.27">-LDH</tspan></text>
<text x="421.5" y="547.4" font-size="5.3" text-anchor="end" font-weight="bold" fill="#000" transform="rotate(-17 421.5 547.4)">a-Zn<tspan dy="1.27" font-size="3.82">2</tspan><tspan dy="-1.27">Cu</tspan><tspan dy="1.27" font-size="3.82">2</tspan><tspan dy="-1.27">Al</tspan><tspan dy="1.27" font-size="3.82">1</tspan><tspan dy="-1.27">-LDH</tspan></text>
<text x="443.8" y="547.4" font-size="5.3" text-anchor="end" font-weight="bold" fill="#000" transform="rotate(-17 443.8 547.4)">a-Zn<tspan dy="1.27" font-size="3.82">1</tspan><tspan dy="-1.27">Cu</tspan><tspan dy="1.27" font-size="3.82">3</tspan><tspan dy="-1.27">Al</tspan><tspan dy="1.27" font-size="3.82">1</tspan><tspan dy="-1.27">-LDH</tspan></text>
<text x="229.1" y="384.6" font-size="21" text-anchor="start" font-weight="bold" fill="#000">h</text>
<text x="242" y="461.7" font-size="8.6" text-anchor="middle" font-weight="bold" fill="#000" transform="rotate(-90 242 461.7)">Absorbance</text>
<circle cx="499.7" cy="535.5" r="1.9" fill="#f01010"/>
<circle cx="505.12" cy="535.5" r="1.9" fill="#f01010"/>
<circle cx="510.54" cy="535.5" r="1.9" fill="#f01010"/>
<circle cx="515.96" cy="535.5" r="1.9" fill="#f01010"/>
<circle cx="521.38" cy="535.5" r="1.9" fill="#f01010"/>
<circle cx="526.8" cy="535.5" r="1.9" fill="#f01010"/>
<circle cx="532.22" cy="535.5" r="1.9" fill="#f01010"/>
<circle cx="537.64" cy="535.5" r="1.9" fill="#f01010"/>
<circle cx="543.06" cy="535.5" r="1.9" fill="#f01010"/>
<circle cx="548.48" cy="535.5" r="1.9" fill="#f01010"/>
<circle cx="553.9" cy="535.5" r="1.9" fill="#f01010"/>
<circle cx="559.32" cy="535.5" r="1.9" fill="#f01010"/>
<circle cx="564.74" cy="535.5" r="1.9" fill="#f01010"/>
<circle cx="570.16" cy="535.5" r="1.9" fill="#f01010"/>
<circle cx="575.58" cy="535.5" r="1.9" fill="#f01010"/>
<circle cx="581" cy="535.5" r="1.9" fill="#f01010"/>
<circle cx="586.42" cy="535.5" r="1.9" fill="#f01010"/>
<circle cx="591.84" cy="535.5" r="1.9" fill="#f01010"/>
<circle cx="597.26" cy="535.5" r="1.9" fill="#f01010"/>
<circle cx="602.68" cy="535.5" r="1.9" fill="#f01010"/>
<circle cx="608.1" cy="535.5" r="1.9" fill="#f01010"/>
<circle cx="613.52" cy="535.5" r="1.9" fill="#f01010"/>
<circle cx="618.94" cy="535.5" r="1.9" fill="#f01010"/>
<circle cx="624.36" cy="535.5" r="1.9" fill="#f01010"/>
<circle cx="629.78" cy="535.5" r="1.9" fill="#f01010"/>
<circle cx="635.2" cy="535.5" r="1.9" fill="#f01010"/>
<circle cx="640.62" cy="535.5" r="1.9" fill="#f01010"/>
<circle cx="646.04" cy="535.5" r="1.9" fill="#f01010"/>
<circle cx="651.46" cy="535.5" r="1.9" fill="#f01010"/>
<circle cx="656.88" cy="535.5" r="1.9" fill="#f01010"/>
<circle cx="662.3" cy="535.5" r="1.9" fill="#f01010"/>
<circle cx="499.7" cy="535.5" r="1.9" fill="#f57010"/>
<circle cx="505.12" cy="534.67" r="1.9" fill="#f57010"/>
<circle cx="510.54" cy="534.67" r="1.9" fill="#f57010"/>
<circle cx="515.96" cy="534.67" r="1.9" fill="#f57010"/>
<circle cx="521.38" cy="534.67" r="1.9" fill="#f57010"/>
<circle cx="526.8" cy="534.67" r="1.9" fill="#f57010"/>
<circle cx="532.22" cy="534.67" r="1.9" fill="#f57010"/>
<circle cx="537.64" cy="534.67" r="1.9" fill="#f57010"/>
<circle cx="543.06" cy="534.67" r="1.9" fill="#f57010"/>
<circle cx="548.48" cy="534.67" r="1.9" fill="#f57010"/>
<circle cx="553.9" cy="534.67" r="1.9" fill="#f57010"/>
<circle cx="559.32" cy="534.67" r="1.9" fill="#f57010"/>
<circle cx="564.74" cy="534.67" r="1.9" fill="#f57010"/>
<circle cx="570.16" cy="534.67" r="1.9" fill="#f57010"/>
<circle cx="575.58" cy="534.67" r="1.9" fill="#f57010"/>
<circle cx="581" cy="534.67" r="1.9" fill="#f57010"/>
<circle cx="586.42" cy="534.67" r="1.9" fill="#f57010"/>
<circle cx="591.84" cy="534.67" r="1.9" fill="#f57010"/>
<circle cx="597.26" cy="534.67" r="1.9" fill="#f57010"/>
<circle cx="602.68" cy="534.67" r="1.9" fill="#f57010"/>
<circle cx="608.1" cy="534.67" r="1.9" fill="#f57010"/>
<circle cx="613.52" cy="534.67" r="1.9" fill="#f57010"/>
<circle cx="618.94" cy="534.67" r="1.9" fill="#f57010"/>
<circle cx="624.36" cy="534.67" r="1.9" fill="#f57010"/>
<circle cx="629.78" cy="534.67" r="1.9" fill="#f57010"/>
<circle cx="635.2" cy="534.67" r="1.9" fill="#f57010"/>
<circle cx="640.62" cy="534.67" r="1.9" fill="#f57010"/>
<circle cx="646.04" cy="534.67" r="1.9" fill="#f57010"/>
<circle cx="651.46" cy="534.67" r="1.9" fill="#f57010"/>
<circle cx="656.88" cy="534.67" r="1.9" fill="#f57010"/>
<circle cx="662.3" cy="534.67" r="1.9" fill="#f57010"/>
<circle cx="499.7" cy="535.5" r="1.9" fill="#20e820"/>
<circle cx="505.12" cy="534.79" r="1.9" fill="#20e820"/>
<circle cx="510.54" cy="534.41" r="1.9" fill="#20e820"/>
<circle cx="515.96" cy="534.02" r="1.9" fill="#20e820"/>
<circle cx="521.38" cy="533.64" r="1.9" fill="#20e820"/>
<circle cx="526.8" cy="533.26" r="1.9" fill="#20e820"/>
<circle cx="532.22" cy="532.88" r="1.9" fill="#20e820"/>
<circle cx="537.64" cy="532.5" r="1.9" fill="#20e820"/>
<circle cx="543.06" cy="532.11" r="1.9" fill="#20e820"/>
<circle cx="548.48" cy="531.73" r="1.9" fill="#20e820"/>
<circle cx="553.9" cy="531.35" r="1.9" fill="#20e820"/>
<circle cx="559.32" cy="530.88" r="1.9" fill="#20e820"/>
<circle cx="564.74" cy="530.52" r="1.9" fill="#20e820"/>
<circle cx="570.16" cy="529.93" r="1.9" fill="#20e820"/>
<circle cx="575.58" cy="529.57" r="1.9" fill="#20e820"/>
<circle cx="581" cy="528.86" r="1.9" fill="#20e820"/>
<circle cx="586.42" cy="527.79" r="1.9" fill="#20e820"/>
<circle cx="591.84" cy="526.84" r="1.9" fill="#20e820"/>
<circle cx="597.26" cy="526.01" r="1.9" fill="#20e820"/>
<circle cx="602.68" cy="525.54" r="1.9" fill="#20e820"/>
<circle cx="608.1" cy="525.53" r="1.9" fill="#20e820"/>
<circle cx="613.52" cy="525.52" r="1.9" fill="#20e820"/>
<circle cx="618.94" cy="525.51" r="1.9" fill="#20e820"/>
<circle cx="624.36" cy="525.5" r="1.9" fill="#20e820"/>
<circle cx="629.78" cy="525.49" r="1.9" fill="#20e820"/>
<circle cx="635.2" cy="525.47" r="1.9" fill="#20e820"/>
<circle cx="640.62" cy="525.46" r="1.9" fill="#20e820"/>
<circle cx="646.04" cy="525.45" r="1.9" fill="#20e820"/>
<circle cx="651.46" cy="525.44" r="1.9" fill="#20e820"/>
<circle cx="656.88" cy="525.43" r="1.9" fill="#20e820"/>
<circle cx="662.3" cy="525.42" r="1.9" fill="#20e820"/>
<circle cx="499.7" cy="535.5" r="1.9" fill="#20f0f0"/>
<circle cx="505.12" cy="534.31" r="1.9" fill="#20f0f0"/>
<circle cx="510.54" cy="533.37" r="1.9" fill="#20f0f0"/>
<circle cx="515.96" cy="532.42" r="1.9" fill="#20f0f0"/>
<circle cx="521.38" cy="531.47" r="1.9" fill="#20f0f0"/>
<circle cx="526.8" cy="530.52" r="1.9" fill="#20f0f0"/>
<circle cx="532.22" cy="529.57" r="1.9" fill="#20f0f0"/>
<circle cx="537.64" cy="528.62" r="1.9" fill="#20f0f0"/>
<circle cx="543.06" cy="527.55" r="1.9" fill="#20f0f0"/>
<circle cx="548.48" cy="526.49" r="1.9" fill="#20f0f0"/>
<circle cx="553.9" cy="524.83" r="1.9" fill="#20f0f0"/>
<circle cx="559.32" cy="523.4" r="1.9" fill="#20f0f0"/>
<circle cx="564.74" cy="521.86" r="1.9" fill="#20f0f0"/>
<circle cx="570.16" cy="520.32" r="1.9" fill="#20f0f0"/>
<circle cx="575.58" cy="519.37" r="1.9" fill="#20f0f0"/>
<circle cx="581" cy="518.31" r="1.9" fill="#20f0f0"/>
<circle cx="586.42" cy="517.36" r="1.9" fill="#20f0f0"/>
<circle cx="591.84" cy="516.76" r="1.9" fill="#20f0f0"/>
<circle cx="597.26" cy="516.29" r="1.9" fill="#20f0f0"/>
<circle cx="602.68" cy="515.93" r="1.9" fill="#20f0f0"/>
<circle cx="608.1" cy="515.7" r="1.9" fill="#20f0f0"/>
<circle cx="613.52" cy="515.7" r="1.9" fill="#20f0f0"/>
<circle cx="618.94" cy="515.7" r="1.9" fill="#20f0f0"/>
<circle cx="624.36" cy="515.7" r="1.9" fill="#20f0f0"/>
<circle cx="629.78" cy="515.7" r="1.9" fill="#20f0f0"/>
<circle cx="635.2" cy="515.7" r="1.9" fill="#20f0f0"/>
<circle cx="640.62" cy="515.7" r="1.9" fill="#20f0f0"/>
<circle cx="646.04" cy="515.7" r="1.9" fill="#20f0f0"/>
<circle cx="651.46" cy="515.7" r="1.9" fill="#20f0f0"/>
<circle cx="656.88" cy="515.7" r="1.9" fill="#20f0f0"/>
<circle cx="662.3" cy="515.7" r="1.9" fill="#20f0f0"/>
<circle cx="499.7" cy="535.5" r="1.9" fill="#1010e0"/>
<circle cx="505.12" cy="533.72" r="1.9" fill="#1010e0"/>
<circle cx="510.54" cy="532.42" r="1.9" fill="#1010e0"/>
<circle cx="515.96" cy="530.52" r="1.9" fill="#1010e0"/>
<circle cx="521.38" cy="529.33" r="1.9" fill="#1010e0"/>
<circle cx="526.8" cy="528.03" r="1.9" fill="#1010e0"/>
<circle cx="532.22" cy="526.49" r="1.9" fill="#1010e0"/>
<circle cx="537.64" cy="525.3" r="1.9" fill="#1010e0"/>
<circle cx="543.06" cy="524" r="1.9" fill="#1010e0"/>
<circle cx="548.48" cy="522.46" r="1.9" fill="#1010e0"/>
<circle cx="553.9" cy="521.27" r="1.9" fill="#1010e0"/>
<circle cx="559.32" cy="519.37" r="1.9" fill="#1010e0"/>
<circle cx="564.74" cy="517.36" r="1.9" fill="#1010e0"/>
<circle cx="570.16" cy="515.93" r="1.9" fill="#1010e0"/>
<circle cx="575.58" cy="514.75" r="1.9" fill="#1010e0"/>
<circle cx="581" cy="513.68" r="1.9" fill="#1010e0"/>
<circle cx="586.42" cy="512.61" r="1.9" fill="#1010e0"/>
<circle cx="591.84" cy="511.19" r="1.9" fill="#1010e0"/>
<circle cx="597.26" cy="509.65" r="1.9" fill="#1010e0"/>
<circle cx="602.68" cy="508.23" r="1.9" fill="#1010e0"/>
<circle cx="608.1" cy="507.63" r="1.9" fill="#1010e0"/>
<circle cx="613.52" cy="507.04" r="1.9" fill="#1010e0"/>
<circle cx="618.94" cy="507.04" r="1.9" fill="#1010e0"/>
<circle cx="624.36" cy="507.04" r="1.9" fill="#1010e0"/>
<circle cx="629.78" cy="507.04" r="1.9" fill="#1010e0"/>
<circle cx="635.2" cy="507.04" r="1.9" fill="#1010e0"/>
<circle cx="640.62" cy="507.04" r="1.9" fill="#1010e0"/>
<circle cx="646.04" cy="507.04" r="1.9" fill="#1010e0"/>
<circle cx="651.46" cy="507.04" r="1.9" fill="#1010e0"/>
<circle cx="656.88" cy="507.04" r="1.9" fill="#1010e0"/>
<circle cx="662.3" cy="507.04" r="1.9" fill="#1010e0"/>
<circle cx="499.7" cy="535.5" r="1.9" fill="#7010e0"/>
<circle cx="505.12" cy="533.13" r="1.9" fill="#7010e0"/>
<circle cx="510.54" cy="531.23" r="1.9" fill="#7010e0"/>
<circle cx="515.96" cy="527.08" r="1.9" fill="#7010e0"/>
<circle cx="521.38" cy="525.66" r="1.9" fill="#7010e0"/>
<circle cx="526.8" cy="523.52" r="1.9" fill="#7010e0"/>
<circle cx="532.22" cy="521.98" r="1.9" fill="#7010e0"/>
<circle cx="537.64" cy="520.08" r="1.9" fill="#7010e0"/>
<circle cx="543.06" cy="517" r="1.9" fill="#7010e0"/>
<circle cx="548.48" cy="515.1" r="1.9" fill="#7010e0"/>
<circle cx="553.9" cy="513.21" r="1.9" fill="#7010e0"/>
<circle cx="559.32" cy="509.29" r="1.9" fill="#7010e0"/>
<circle cx="564.74" cy="507.28" r="1.9" fill="#7010e0"/>
<circle cx="570.16" cy="505.74" r="1.9" fill="#7010e0"/>
<circle cx="575.58" cy="503.72" r="1.9" fill="#7010e0"/>
<circle cx="581" cy="501.35" r="1.9" fill="#7010e0"/>
<circle cx="586.42" cy="499.21" r="1.9" fill="#7010e0"/>
<circle cx="591.84" cy="496.72" r="1.9" fill="#7010e0"/>
<circle cx="597.26" cy="495.06" r="1.9" fill="#7010e0"/>
<circle cx="602.68" cy="493.76" r="1.9" fill="#7010e0"/>
<circle cx="608.1" cy="493.28" r="1.9" fill="#7010e0"/>
<circle cx="613.52" cy="493.28" r="1.9" fill="#7010e0"/>
<circle cx="618.94" cy="493.28" r="1.9" fill="#7010e0"/>
<circle cx="624.36" cy="493.28" r="1.9" fill="#7010e0"/>
<circle cx="629.78" cy="493.28" r="1.9" fill="#7010e0"/>
<circle cx="635.2" cy="493.28" r="1.9" fill="#7010e0"/>
<circle cx="640.62" cy="493.28" r="1.9" fill="#7010e0"/>
<circle cx="646.04" cy="493.28" r="1.9" fill="#7010e0"/>
<circle cx="651.46" cy="493.28" r="1.9" fill="#7010e0"/>
<circle cx="656.88" cy="493.28" r="1.9" fill="#7010e0"/>
<circle cx="662.3" cy="493.28" r="1.9" fill="#7010e0"/>
<circle cx="499.7" cy="535.5" r="1.9" fill="#f0b0f0"/>
<circle cx="505.12" cy="531.94" r="1.9" fill="#f0b0f0"/>
<circle cx="510.54" cy="526.72" r="1.9" fill="#f0b0f0"/>
<circle cx="515.96" cy="520.68" r="1.9" fill="#f0b0f0"/>
<circle cx="521.38" cy="517.36" r="1.9" fill="#f0b0f0"/>
<circle cx="526.8" cy="513.68" r="1.9" fill="#f0b0f0"/>
<circle cx="532.22" cy="511.31" r="1.9" fill="#f0b0f0"/>
<circle cx="537.64" cy="508.7" r="1.9" fill="#f0b0f0"/>
<circle cx="543.06" cy="505.97" r="1.9" fill="#f0b0f0"/>
<circle cx="548.48" cy="502.89" r="1.9" fill="#f0b0f0"/>
<circle cx="553.9" cy="499.45" r="1.9" fill="#f0b0f0"/>
<circle cx="559.32" cy="497.55" r="1.9" fill="#f0b0f0"/>
<circle cx="564.74" cy="495.89" r="1.9" fill="#f0b0f0"/>
<circle cx="570.16" cy="494.11" r="1.9" fill="#f0b0f0"/>
<circle cx="575.58" cy="491.98" r="1.9" fill="#f0b0f0"/>
<circle cx="581" cy="489.61" r="1.9" fill="#f0b0f0"/>
<circle cx="586.42" cy="486.41" r="1.9" fill="#f0b0f0"/>
<circle cx="591.84" cy="482.85" r="1.9" fill="#f0b0f0"/>
<circle cx="597.26" cy="480.36" r="1.9" fill="#f0b0f0"/>
<circle cx="602.68" cy="478.94" r="1.9" fill="#f0b0f0"/>
<circle cx="608.1" cy="478.58" r="1.9" fill="#f0b0f0"/>
<circle cx="613.52" cy="478.58" r="1.9" fill="#f0b0f0"/>
<circle cx="618.94" cy="478.58" r="1.9" fill="#f0b0f0"/>
<circle cx="624.36" cy="478.58" r="1.9" fill="#f0b0f0"/>
<circle cx="629.78" cy="478.58" r="1.9" fill="#f0b0f0"/>
<circle cx="635.2" cy="478.58" r="1.9" fill="#f0b0f0"/>
<circle cx="640.62" cy="478.58" r="1.9" fill="#f0b0f0"/>
<circle cx="646.04" cy="478.58" r="1.9" fill="#f0b0f0"/>
<circle cx="651.46" cy="478.58" r="1.9" fill="#f0b0f0"/>
<circle cx="656.88" cy="478.58" r="1.9" fill="#f0b0f0"/>
<circle cx="662.3" cy="478.58" r="1.9" fill="#f0b0f0"/>
<circle cx="499.7" cy="535.5" r="1.9" fill="#e070f0"/>
<circle cx="505.12" cy="526.96" r="1.9" fill="#e070f0"/>
<circle cx="510.54" cy="521.74" r="1.9" fill="#e070f0"/>
<circle cx="515.96" cy="517.36" r="1.9" fill="#e070f0"/>
<circle cx="521.38" cy="512.26" r="1.9" fill="#e070f0"/>
<circle cx="526.8" cy="509.89" r="1.9" fill="#e070f0"/>
<circle cx="532.22" cy="506.45" r="1.9" fill="#e070f0"/>
<circle cx="537.64" cy="502.42" r="1.9" fill="#e070f0"/>
<circle cx="543.06" cy="496.96" r="1.9" fill="#e070f0"/>
<circle cx="548.48" cy="493.52" r="1.9" fill="#e070f0"/>
<circle cx="553.9" cy="490.79" r="1.9" fill="#e070f0"/>
<circle cx="559.32" cy="485.93" r="1.9" fill="#e070f0"/>
<circle cx="564.74" cy="482.49" r="1.9" fill="#e070f0"/>
<circle cx="570.16" cy="479.88" r="1.9" fill="#e070f0"/>
<circle cx="575.58" cy="477.39" r="1.9" fill="#e070f0"/>
<circle cx="581" cy="473.84" r="1.9" fill="#e070f0"/>
<circle cx="586.42" cy="470.75" r="1.9" fill="#e070f0"/>
<circle cx="591.84" cy="468.14" r="1.9" fill="#e070f0"/>
<circle cx="597.26" cy="465.77" r="1.9" fill="#e070f0"/>
<circle cx="602.68" cy="463.64" r="1.9" fill="#e070f0"/>
<circle cx="608.1" cy="461.98" r="1.9" fill="#e070f0"/>
<circle cx="613.52" cy="460.67" r="1.9" fill="#e070f0"/>
<circle cx="618.94" cy="459.25" r="1.9" fill="#e070f0"/>
<circle cx="624.36" cy="457.95" r="1.9" fill="#e070f0"/>
<circle cx="629.78" cy="457.47" r="1.9" fill="#e070f0"/>
<circle cx="635.2" cy="457.47" r="1.9" fill="#e070f0"/>
<circle cx="640.62" cy="457.47" r="1.9" fill="#e070f0"/>
<circle cx="646.04" cy="457.47" r="1.9" fill="#e070f0"/>
<circle cx="651.46" cy="457.47" r="1.9" fill="#e070f0"/>
<circle cx="656.88" cy="457.47" r="1.9" fill="#e070f0"/>
<circle cx="662.3" cy="457.47" r="1.9" fill="#e070f0"/>
<circle cx="499.7" cy="535.5" r="1.9" fill="#f010f0"/>
<circle cx="505.12" cy="523.88" r="1.9" fill="#f010f0"/>
<circle cx="510.54" cy="514.51" r="1.9" fill="#f010f0"/>
<circle cx="515.96" cy="508.94" r="1.9" fill="#f010f0"/>
<circle cx="521.38" cy="502.53" r="1.9" fill="#f010f0"/>
<circle cx="526.8" cy="497.43" r="1.9" fill="#f010f0"/>
<circle cx="532.22" cy="492.57" r="1.9" fill="#f010f0"/>
<circle cx="537.64" cy="488.42" r="1.9" fill="#f010f0"/>
<circle cx="543.06" cy="482.73" r="1.9" fill="#f010f0"/>
<circle cx="548.48" cy="477.51" r="1.9" fill="#f010f0"/>
<circle cx="553.9" cy="473.24" r="1.9" fill="#f010f0"/>
<circle cx="559.32" cy="468.14" r="1.9" fill="#f010f0"/>
<circle cx="564.74" cy="462.81" r="1.9" fill="#f010f0"/>
<circle cx="570.16" cy="457.12" r="1.9" fill="#f010f0"/>
<circle cx="575.58" cy="451.9" r="1.9" fill="#f010f0"/>
<circle cx="581" cy="448.1" r="1.9" fill="#f010f0"/>
<circle cx="586.42" cy="445.02" r="1.9" fill="#f010f0"/>
<circle cx="591.84" cy="441.82" r="1.9" fill="#f010f0"/>
<circle cx="597.26" cy="440.4" r="1.9" fill="#f010f0"/>
<circle cx="602.68" cy="438.38" r="1.9" fill="#f010f0"/>
<circle cx="608.1" cy="438.35" r="1.9" fill="#f010f0"/>
<circle cx="613.52" cy="438.32" r="1.9" fill="#f010f0"/>
<circle cx="618.94" cy="438.28" r="1.9" fill="#f010f0"/>
<circle cx="624.36" cy="438.25" r="1.9" fill="#f010f0"/>
<circle cx="629.78" cy="438.22" r="1.9" fill="#f010f0"/>
<circle cx="635.2" cy="438.19" r="1.9" fill="#f010f0"/>
<circle cx="640.62" cy="438.15" r="1.9" fill="#f010f0"/>
<circle cx="646.04" cy="438.12" r="1.9" fill="#f010f0"/>
<circle cx="651.46" cy="438.09" r="1.9" fill="#f010f0"/>
<circle cx="656.88" cy="438.06" r="1.9" fill="#f010f0"/>
<circle cx="662.3" cy="438.02" r="1.9" fill="#f010f0"/>
<circle cx="489.1" cy="393.2" r="1.8" fill="#f01010"/>
<text x="496.4" y="395.4" font-size="6.4" text-anchor="start" font-weight="bold" fill="#000">Control</text>
<circle cx="489.1" cy="401.8" r="1.8" fill="#f57010"/>
<text x="496.4" y="404" font-size="6.4" text-anchor="start" font-weight="bold" fill="#000">Zn<tspan dy="1.54" font-size="4.61">4</tspan><tspan dy="-1.54">Al</tspan><tspan dy="1.54" font-size="4.61">1</tspan><tspan dy="-1.54">-LDH</tspan></text>
<circle cx="489.1" cy="411.2" r="1.8" fill="#20e820"/>
<text x="496.4" y="413.4" font-size="6.4" text-anchor="start" font-weight="bold" fill="#000">CeO<tspan dy="1.54" font-size="4.61">2</tspan></text>
<circle cx="489.1" cy="420.5" r="1.8" fill="#20f0f0"/>
<text x="496.4" y="422.7" font-size="6.4" text-anchor="start" font-weight="bold" fill="#000">Zn<tspan dy="1.54" font-size="4.61">3</tspan><tspan dy="-1.54">Cu</tspan><tspan dy="1.54" font-size="4.61">1</tspan><tspan dy="-1.54">Al</tspan><tspan dy="1.54" font-size="4.61">1</tspan><tspan dy="-1.54">-LDH</tspan></text>
<circle cx="489.1" cy="430.2" r="1.8" fill="#1010e0"/>
<text x="496.4" y="432.4" font-size="6.4" text-anchor="start" font-weight="bold" fill="#000">Zn<tspan dy="1.54" font-size="4.61">2</tspan><tspan dy="-1.54">Cu</tspan><tspan dy="1.54" font-size="4.61">2</tspan><tspan dy="-1.54">Al</tspan><tspan dy="1.54" font-size="4.61">1</tspan><tspan dy="-1.54">-LDH</tspan></text>
<circle cx="489.1" cy="439.8" r="1.8" fill="#7010e0"/>
<text x="496.4" y="442" font-size="6.4" text-anchor="start" font-weight="bold" fill="#000">Zn<tspan dy="1.54" font-size="4.61">1</tspan><tspan dy="-1.54">Cu</tspan><tspan dy="1.54" font-size="4.61">3</tspan><tspan dy="-1.54">Al</tspan><tspan dy="1.54" font-size="4.61">1</tspan><tspan dy="-1.54">-LDH</tspan></text>
<circle cx="489.1" cy="449.5" r="1.8" fill="#f0b0f0"/>
<text x="496.4" y="451.7" font-size="6.4" text-anchor="start" font-weight="bold" fill="#000">a-Zn<tspan dy="1.54" font-size="4.61">3</tspan><tspan dy="-1.54">Cu</tspan><tspan dy="1.54" font-size="4.61">1</tspan><tspan dy="-1.54">Al</tspan><tspan dy="1.54" font-size="4.61">1</tspan><tspan dy="-1.54">-LDH</tspan></text>
<circle cx="489.1" cy="459.3" r="1.8" fill="#e070f0"/>
<text x="496.4" y="461.5" font-size="6.4" text-anchor="start" font-weight="bold" fill="#000">a-Zn<tspan dy="1.54" font-size="4.61">2</tspan><tspan dy="-1.54">Cu</tspan><tspan dy="1.54" font-size="4.61">2</tspan><tspan dy="-1.54">Al</tspan><tspan dy="1.54" font-size="4.61">1</tspan><tspan dy="-1.54">-LDH</tspan></text>
<circle cx="489.1" cy="468.9" r="1.8" fill="#f010f0"/>
<text x="496.4" y="471.1" font-size="6.4" text-anchor="start" font-weight="bold" fill="#000">a-Zn<tspan dy="1.54" font-size="4.61">1</tspan><tspan dy="-1.54">Cu</tspan><tspan dy="1.54" font-size="4.61">3</tspan><tspan dy="-1.54">Al</tspan><tspan dy="1.54" font-size="4.61">1</tspan><tspan dy="-1.54">-LDH</tspan></text>
<line x1="483.35" y1="387.9" x2="673.95" y2="387.9" stroke="#4a4a4a" stroke-width="1.6"/>
<line x1="483.9" y1="387.35" x2="483.9" y2="541.85" stroke="#4a4a4a" stroke-width="1.6"/>
<line x1="673.4" y1="387.35" x2="673.4" y2="541.85" stroke="#111" stroke-width="1.15"/>
<line x1="483.35" y1="541.3" x2="673.95" y2="541.3" stroke="#111" stroke-width="1.15"/>
<line x1="499.7" y1="541.3" x2="499.7" y2="544.3" stroke="#111" stroke-width="0.9"/>
<text x="499.7" y="552.4" font-size="8.1" text-anchor="middle" font-weight="bold" fill="#000">0</text>
<line x1="526.8" y1="541.3" x2="526.8" y2="544.3" stroke="#111" stroke-width="0.9"/>
<text x="526.8" y="552.4" font-size="8.1" text-anchor="middle" font-weight="bold" fill="#000">50</text>
<line x1="553.9" y1="541.3" x2="553.9" y2="544.3" stroke="#111" stroke-width="0.9"/>
<text x="553.9" y="552.4" font-size="8.1" text-anchor="middle" font-weight="bold" fill="#000">100</text>
<line x1="581" y1="541.3" x2="581" y2="544.3" stroke="#111" stroke-width="0.9"/>
<text x="581" y="552.4" font-size="8.1" text-anchor="middle" font-weight="bold" fill="#000">150</text>
<line x1="608.1" y1="541.3" x2="608.1" y2="544.3" stroke="#111" stroke-width="0.9"/>
<text x="608.1" y="552.4" font-size="8.1" text-anchor="middle" font-weight="bold" fill="#000">200</text>
<line x1="635.2" y1="541.3" x2="635.2" y2="544.3" stroke="#111" stroke-width="0.9"/>
<text x="635.2" y="552.4" font-size="8.1" text-anchor="middle" font-weight="bold" fill="#000">250</text>
<line x1="662.3" y1="541.3" x2="662.3" y2="544.3" stroke="#111" stroke-width="0.9"/>
<text x="662.3" y="552.4" font-size="8.1" text-anchor="middle" font-weight="bold" fill="#000">300</text>
<line x1="486.15" y1="541.3" x2="486.15" y2="542.9" stroke="#111" stroke-width="0.9"/>
<line x1="513.25" y1="541.3" x2="513.25" y2="542.9" stroke="#111" stroke-width="0.9"/>
<line x1="540.35" y1="541.3" x2="540.35" y2="542.9" stroke="#111" stroke-width="0.9"/>
<line x1="567.45" y1="541.3" x2="567.45" y2="542.9" stroke="#111" stroke-width="0.9"/>
<line x1="594.55" y1="541.3" x2="594.55" y2="542.9" stroke="#111" stroke-width="0.9"/>
<line x1="621.65" y1="541.3" x2="621.65" y2="542.9" stroke="#111" stroke-width="0.9"/>
<line x1="648.75" y1="541.3" x2="648.75" y2="542.9" stroke="#111" stroke-width="0.9"/>
<line x1="480.9" y1="535.5" x2="483.9" y2="535.5" stroke="#111" stroke-width="0.9"/>
<text x="479.7" y="538.38" font-size="8.1" text-anchor="end" font-weight="bold" fill="#000">0</text>
<line x1="480.9" y1="511.78" x2="483.9" y2="511.78" stroke="#111" stroke-width="0.9"/>
<text x="479.7" y="514.66" font-size="8.1" text-anchor="end" font-weight="bold" fill="#000">2</text>
<line x1="480.9" y1="488.07" x2="483.9" y2="488.07" stroke="#111" stroke-width="0.9"/>
<text x="479.7" y="490.94" font-size="8.1" text-anchor="end" font-weight="bold" fill="#000">4</text>
<line x1="480.9" y1="464.35" x2="483.9" y2="464.35" stroke="#111" stroke-width="0.9"/>
<text x="479.7" y="467.23" font-size="8.1" text-anchor="end" font-weight="bold" fill="#000">6</text>
<line x1="480.9" y1="440.63" x2="483.9" y2="440.63" stroke="#111" stroke-width="0.9"/>
<text x="479.7" y="443.51" font-size="8.1" text-anchor="end" font-weight="bold" fill="#000">8</text>
<line x1="480.9" y1="416.92" x2="483.9" y2="416.92" stroke="#111" stroke-width="0.9"/>
<text x="479.7" y="419.79" font-size="8.1" text-anchor="end" font-weight="bold" fill="#000">10</text>
<line x1="480.9" y1="393.2" x2="483.9" y2="393.2" stroke="#111" stroke-width="0.9"/>
<text x="479.7" y="396.08" font-size="8.1" text-anchor="end" font-weight="bold" fill="#000">12</text>
<line x1="482.3" y1="523.64" x2="483.9" y2="523.64" stroke="#111" stroke-width="0.9"/>
<line x1="482.3" y1="499.93" x2="483.9" y2="499.93" stroke="#111" stroke-width="0.9"/>
<line x1="482.3" y1="476.21" x2="483.9" y2="476.21" stroke="#111" stroke-width="0.9"/>
<line x1="482.3" y1="452.49" x2="483.9" y2="452.49" stroke="#111" stroke-width="0.9"/>
<line x1="482.3" y1="428.77" x2="483.9" y2="428.77" stroke="#111" stroke-width="0.9"/>
<line x1="482.3" y1="405.06" x2="483.9" y2="405.06" stroke="#111" stroke-width="0.9"/>
<text x="461.1" y="384.6" font-size="21" text-anchor="start" font-weight="bold" fill="#000">i</text>
<text x="468.4" y="465.6" font-size="8.6" text-anchor="middle" font-weight="bold" fill="#000" transform="rotate(-90 468.4 465.6)">O<tspan dy="2.06" font-size="6.19">2</tspan><tspan dy="-2.06"> Concentration (mg L</tspan><tspan dy="-3.27" font-size="6.19">-1</tspan><tspan dy="3.27">)</tspan></text>
<text x="575.3" y="563.6" font-size="8.6" text-anchor="middle" font-weight="bold" fill="#000">Time (s)</text>
</svg></body></html>
